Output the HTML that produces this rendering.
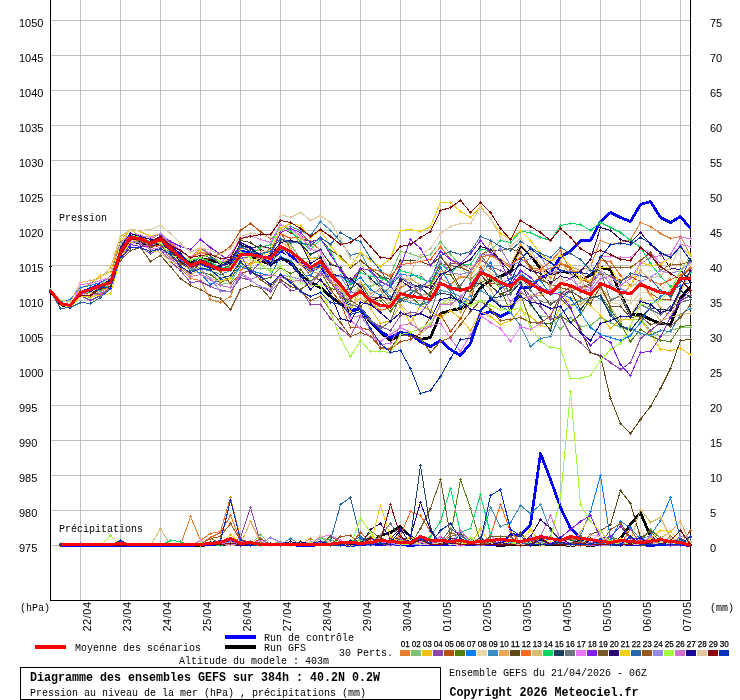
<!DOCTYPE html>
<html><head><meta charset="utf-8"><title>GEFS</title>
<style>
html,body{margin:0;padding:0;background:#fff;}
body{width:740px;height:700px;overflow:hidden;position:relative;font-family:"Liberation Sans",sans-serif;}
svg{position:absolute;left:0;top:0;will-change:transform;}
.a{font-family:"Liberation Sans",sans-serif;font-size:11px;fill:#000;}
.m{font-family:"Liberation Mono",monospace;font-size:11.6px;fill:#000;}
.b{font-family:"Liberation Mono",monospace;font-size:12px;font-weight:bold;fill:#000;}
.t{font-family:"Liberation Sans",sans-serif;font-size:8.4px;fill:#000;stroke:#000;stroke-width:0.25px;}
</style></head><body>
<svg width="740" height="700" viewBox="0 0 740 700">
<rect x="0" y="0" width="740" height="700" fill="#fff"/>

<defs><marker id="k1" markerWidth="4" markerHeight="4" refX="2" refY="2" markerUnits="userSpaceOnUse"><path d="M1.5 0.5h1v1h1v1h-1v1h-1v-1h-1v-1h1z" fill="#E67E30" shape-rendering="crispEdges"/></marker><marker id="k2" markerWidth="4" markerHeight="4" refX="2" refY="2" markerUnits="userSpaceOnUse"><path d="M1.5 0.5h1v1h1v1h-1v1h-1v-1h-1v-1h1z" fill="#7DC46E" shape-rendering="crispEdges"/></marker><marker id="k3" markerWidth="4" markerHeight="4" refX="2" refY="2" markerUnits="userSpaceOnUse"><path d="M1.5 0.5h1v1h1v1h-1v1h-1v-1h-1v-1h1z" fill="#F0C010" shape-rendering="crispEdges"/></marker><marker id="k4" markerWidth="4" markerHeight="4" refX="2" refY="2" markerUnits="userSpaceOnUse"><path d="M1.5 0.5h1v1h1v1h-1v1h-1v-1h-1v-1h1z" fill="#8E44AD" shape-rendering="crispEdges"/></marker><marker id="k5" markerWidth="4" markerHeight="4" refX="2" refY="2" markerUnits="userSpaceOnUse"><path d="M1.5 0.5h1v1h1v1h-1v1h-1v-1h-1v-1h1z" fill="#B8500E" shape-rendering="crispEdges"/></marker><marker id="k6" markerWidth="4" markerHeight="4" refX="2" refY="2" markerUnits="userSpaceOnUse"><path d="M1.5 0.5h1v1h1v1h-1v1h-1v-1h-1v-1h1z" fill="#55800B" shape-rendering="crispEdges"/></marker><marker id="k7" markerWidth="4" markerHeight="4" refX="2" refY="2" markerUnits="userSpaceOnUse"><path d="M1.5 0.5h1v1h1v1h-1v1h-1v-1h-1v-1h1z" fill="#0A7FF5" shape-rendering="crispEdges"/></marker><marker id="k8" markerWidth="4" markerHeight="4" refX="2" refY="2" markerUnits="userSpaceOnUse"><path d="M1.5 0.5h1v1h1v1h-1v1h-1v-1h-1v-1h1z" fill="#E8D8A8" shape-rendering="crispEdges"/></marker><marker id="k9" markerWidth="4" markerHeight="4" refX="2" refY="2" markerUnits="userSpaceOnUse"><path d="M1.5 0.5h1v1h1v1h-1v1h-1v-1h-1v-1h1z" fill="#3A8BC0" shape-rendering="crispEdges"/></marker><marker id="k10" markerWidth="4" markerHeight="4" refX="2" refY="2" markerUnits="userSpaceOnUse"><path d="M1.5 0.5h1v1h1v1h-1v1h-1v-1h-1v-1h1z" fill="#E8A858" shape-rendering="crispEdges"/></marker><marker id="k11" markerWidth="4" markerHeight="4" refX="2" refY="2" markerUnits="userSpaceOnUse"><path d="M1.5 0.5h1v1h1v1h-1v1h-1v-1h-1v-1h1z" fill="#5F4818" shape-rendering="crispEdges"/></marker><marker id="k12" markerWidth="4" markerHeight="4" refX="2" refY="2" markerUnits="userSpaceOnUse"><path d="M1.5 0.5h1v1h1v1h-1v1h-1v-1h-1v-1h1z" fill="#F56A20" shape-rendering="crispEdges"/></marker><marker id="k13" markerWidth="4" markerHeight="4" refX="2" refY="2" markerUnits="userSpaceOnUse"><path d="M1.5 0.5h1v1h1v1h-1v1h-1v-1h-1v-1h1z" fill="#D4BC6C" shape-rendering="crispEdges"/></marker><marker id="k14" markerWidth="4" markerHeight="4" refX="2" refY="2" markerUnits="userSpaceOnUse"><path d="M1.5 0.5h1v1h1v1h-1v1h-1v-1h-1v-1h1z" fill="#0AD860" shape-rendering="crispEdges"/></marker><marker id="k15" markerWidth="4" markerHeight="4" refX="2" refY="2" markerUnits="userSpaceOnUse"><path d="M1.5 0.5h1v1h1v1h-1v1h-1v-1h-1v-1h1z" fill="#1F4060" shape-rendering="crispEdges"/></marker><marker id="k16" markerWidth="4" markerHeight="4" refX="2" refY="2" markerUnits="userSpaceOnUse"><path d="M1.5 0.5h1v1h1v1h-1v1h-1v-1h-1v-1h1z" fill="#6A7680" shape-rendering="crispEdges"/></marker><marker id="k17" markerWidth="4" markerHeight="4" refX="2" refY="2" markerUnits="userSpaceOnUse"><path d="M1.5 0.5h1v1h1v1h-1v1h-1v-1h-1v-1h1z" fill="#E878F8" shape-rendering="crispEdges"/></marker><marker id="k18" markerWidth="4" markerHeight="4" refX="2" refY="2" markerUnits="userSpaceOnUse"><path d="M1.5 0.5h1v1h1v1h-1v1h-1v-1h-1v-1h1z" fill="#8020F0" shape-rendering="crispEdges"/></marker><marker id="k19" markerWidth="4" markerHeight="4" refX="2" refY="2" markerUnits="userSpaceOnUse"><path d="M1.5 0.5h1v1h1v1h-1v1h-1v-1h-1v-1h1z" fill="#7A5A28" shape-rendering="crispEdges"/></marker><marker id="k20" markerWidth="4" markerHeight="4" refX="2" refY="2" markerUnits="userSpaceOnUse"><path d="M1.5 0.5h1v1h1v1h-1v1h-1v-1h-1v-1h1z" fill="#300870" shape-rendering="crispEdges"/></marker><marker id="k21" markerWidth="4" markerHeight="4" refX="2" refY="2" markerUnits="userSpaceOnUse"><path d="M1.5 0.5h1v1h1v1h-1v1h-1v-1h-1v-1h1z" fill="#F0D008" shape-rendering="crispEdges"/></marker><marker id="k22" markerWidth="4" markerHeight="4" refX="2" refY="2" markerUnits="userSpaceOnUse"><path d="M1.5 0.5h1v1h1v1h-1v1h-1v-1h-1v-1h1z" fill="#2868A8" shape-rendering="crispEdges"/></marker><marker id="k23" markerWidth="4" markerHeight="4" refX="2" refY="2" markerUnits="userSpaceOnUse"><path d="M1.5 0.5h1v1h1v1h-1v1h-1v-1h-1v-1h1z" fill="#985820" shape-rendering="crispEdges"/></marker><marker id="k24" markerWidth="4" markerHeight="4" refX="2" refY="2" markerUnits="userSpaceOnUse"><path d="M1.5 0.5h1v1h1v1h-1v1h-1v-1h-1v-1h1z" fill="#9888E8" shape-rendering="crispEdges"/></marker><marker id="k25" markerWidth="4" markerHeight="4" refX="2" refY="2" markerUnits="userSpaceOnUse"><path d="M1.5 0.5h1v1h1v1h-1v1h-1v-1h-1v-1h1z" fill="#A0F840" shape-rendering="crispEdges"/></marker><marker id="k26" markerWidth="4" markerHeight="4" refX="2" refY="2" markerUnits="userSpaceOnUse"><path d="M1.5 0.5h1v1h1v1h-1v1h-1v-1h-1v-1h1z" fill="#D070D0" shape-rendering="crispEdges"/></marker><marker id="k27" markerWidth="4" markerHeight="4" refX="2" refY="2" markerUnits="userSpaceOnUse"><path d="M1.5 0.5h1v1h1v1h-1v1h-1v-1h-1v-1h1z" fill="#180898" shape-rendering="crispEdges"/></marker><marker id="k28" markerWidth="4" markerHeight="4" refX="2" refY="2" markerUnits="userSpaceOnUse"><path d="M1.5 0.5h1v1h1v1h-1v1h-1v-1h-1v-1h1z" fill="#E0C8A0" shape-rendering="crispEdges"/></marker><marker id="k29" markerWidth="4" markerHeight="4" refX="2" refY="2" markerUnits="userSpaceOnUse"><path d="M1.5 0.5h1v1h1v1h-1v1h-1v-1h-1v-1h1z" fill="#880808" shape-rendering="crispEdges"/></marker><marker id="k30" markerWidth="4" markerHeight="4" refX="2" refY="2" markerUnits="userSpaceOnUse"><path d="M1.5 0.5h1v1h1v1h-1v1h-1v-1h-1v-1h1z" fill="#0830B8" shape-rendering="crispEdges"/></marker></defs>
<g shape-rendering="crispEdges" stroke="#c0c0c0" stroke-width="1"><line x1="50" y1="20.5" x2="690" y2="20.5"/><line x1="50" y1="55.5" x2="690" y2="55.5"/><line x1="50" y1="90.5" x2="690" y2="90.5"/><line x1="50" y1="125.5" x2="690" y2="125.5"/><line x1="50" y1="160.5" x2="690" y2="160.5"/><line x1="50" y1="195.5" x2="690" y2="195.5"/><line x1="50" y1="230.5" x2="690" y2="230.5"/><line x1="50" y1="265.5" x2="690" y2="265.5"/><line x1="50" y1="300.5" x2="690" y2="300.5"/><line x1="50" y1="335.5" x2="690" y2="335.5"/><line x1="50" y1="370.5" x2="690" y2="370.5"/><line x1="50" y1="405.5" x2="690" y2="405.5"/><line x1="50" y1="440.5" x2="690" y2="440.5"/><line x1="50" y1="475.5" x2="690" y2="475.5"/><line x1="50" y1="510.5" x2="690" y2="510.5"/><line x1="50" y1="545.5" x2="690" y2="545.5"/><line x1="80.5" y1="0" x2="80.5" y2="600"/><line x1="120.5" y1="0" x2="120.5" y2="600"/><line x1="160.5" y1="0" x2="160.5" y2="600"/><line x1="200.5" y1="0" x2="200.5" y2="600"/><line x1="240.5" y1="0" x2="240.5" y2="600"/><line x1="280.5" y1="0" x2="280.5" y2="600"/><line x1="320.5" y1="0" x2="320.5" y2="600"/><line x1="360.5" y1="0" x2="360.5" y2="600"/><line x1="400.5" y1="0" x2="400.5" y2="600"/><line x1="440.5" y1="0" x2="440.5" y2="600"/><line x1="480.5" y1="0" x2="480.5" y2="600"/><line x1="520.5" y1="0" x2="520.5" y2="600"/><line x1="560.5" y1="0" x2="560.5" y2="600"/><line x1="600.5" y1="0" x2="600.5" y2="600"/><line x1="640.5" y1="0" x2="640.5" y2="600"/><line x1="680.5" y1="0" x2="680.5" y2="600"/></g>
<text class="a" x="19" y="27">1050</text><text class="a" x="710" y="27">75</text><text class="a" x="19" y="62">1045</text><text class="a" x="710" y="62">70</text><text class="a" x="19" y="97">1040</text><text class="a" x="710" y="97">65</text><text class="a" x="19" y="132">1035</text><text class="a" x="710" y="132">60</text><text class="a" x="19" y="167">1030</text><text class="a" x="710" y="167">55</text><text class="a" x="19" y="202">1025</text><text class="a" x="710" y="202">50</text><text class="a" x="19" y="237">1020</text><text class="a" x="710" y="237">45</text><text class="a" x="19" y="272">1015</text><text class="a" x="710" y="272">40</text><text class="a" x="19" y="307">1010</text><text class="a" x="710" y="307">35</text><text class="a" x="19" y="342">1005</text><text class="a" x="710" y="342">30</text><text class="a" x="19" y="377">1000</text><text class="a" x="710" y="377">25</text><text class="a" x="19" y="412">995</text><text class="a" x="710" y="412">20</text><text class="a" x="19" y="447">990</text><text class="a" x="710" y="447">15</text><text class="a" x="19" y="482">985</text><text class="a" x="710" y="482">10</text><text class="a" x="19" y="517">980</text><text class="a" x="710" y="517">5</text><text class="a" x="19" y="552">975</text><text class="a" x="710" y="552">0</text><text class="a" style="letter-spacing:0.5px" transform="translate(91,631.5) rotate(-90)">22/04</text><text class="a" style="letter-spacing:0.5px" transform="translate(131,631.5) rotate(-90)">23/04</text><text class="a" style="letter-spacing:0.5px" transform="translate(171,631.5) rotate(-90)">24/04</text><text class="a" style="letter-spacing:0.5px" transform="translate(211,631.5) rotate(-90)">25/04</text><text class="a" style="letter-spacing:0.5px" transform="translate(251,631.5) rotate(-90)">26/04</text><text class="a" style="letter-spacing:0.5px" transform="translate(291,631.5) rotate(-90)">27/04</text><text class="a" style="letter-spacing:0.5px" transform="translate(331,631.5) rotate(-90)">28/04</text><text class="a" style="letter-spacing:0.5px" transform="translate(371,631.5) rotate(-90)">29/04</text><text class="a" style="letter-spacing:0.5px" transform="translate(411,631.5) rotate(-90)">30/04</text><text class="a" style="letter-spacing:0.5px" transform="translate(451,631.5) rotate(-90)">01/05</text><text class="a" style="letter-spacing:0.5px" transform="translate(491,631.5) rotate(-90)">02/05</text><text class="a" style="letter-spacing:0.5px" transform="translate(531,631.5) rotate(-90)">03/05</text><text class="a" style="letter-spacing:0.5px" transform="translate(571,631.5) rotate(-90)">04/05</text><text class="a" style="letter-spacing:0.5px" transform="translate(611,631.5) rotate(-90)">05/05</text><text class="a" style="letter-spacing:0.5px" transform="translate(651,631.5) rotate(-90)">06/05</text><text class="a" style="letter-spacing:0.5px" transform="translate(691,631.5) rotate(-90)">07/05</text>
<g shape-rendering="crispEdges" fill="#000"><rect x="50" y="0" width="1" height="601"/><rect x="690" y="0" width="1" height="601"/><rect x="50" y="600" width="641" height="1"/><rect x="49" y="266" width="3" height="1"/></g>
<!--DATA-->
<g fill="none" stroke-linejoin="round" shape-rendering="crispEdges">
<polyline stroke="#000000" stroke-width="2.8" points="60.5,545.5 70.5,545.5 80.5,545.5 90.5,545.5 100.5,545.5 110.5,545.5 120.5,545.5 130.5,545.5 140.5,545.5 150.5,545.5 160.5,545.5 170.5,545.5 180.5,545.5 190.5,545.5 200.5,545.5 210.5,544.5 220.5,544.5 230.5,544.5 240.5,544.5 250.5,544.5 260.5,544.5 270.5,544.5 280.5,544.5 290.5,544.5 300.5,544.5 310.5,545.5 320.5,544.5 330.5,544.5 340.5,544.5 350.5,544.5 360.5,544.5 370.5,544.5 380.5,535.5 390.5,532.5 400.5,526.5 410.5,536.5 420.5,544.5 430.5,544.5 440.5,544.5 450.5,544.5 460.5,544.5 470.5,544.5 480.5,544.5 490.5,544.5 500.5,545.5 510.5,544.5 520.5,544.5 530.5,544.5 540.5,544.5 550.5,544.5 560.5,544.5 570.5,545.5 580.5,544.5 590.5,545.5 600.5,544.5 610.5,544.5 620.5,538.5 630.5,524.5 640.5,512.5 650.5,536.5 660.5,544.5 670.5,544.5 680.5,544.5 690.5,545.5"/>
<polyline stroke="#0000ff" stroke-width="2.8" points="60.5,545.5 70.5,545.5 80.5,545.5 90.5,545.5 100.5,545.5 110.5,545.5 120.5,545.5 130.5,545.5 140.5,545.5 150.5,545.5 160.5,545.5 170.5,545.5 180.5,545.5 190.5,545.5 200.5,544.5 210.5,544.5 220.5,544.5 230.5,541.5 240.5,544.5 250.5,544.5 260.5,544.5 270.5,544.5 280.5,544.5 290.5,544.5 300.5,545.5 310.5,545.5 320.5,544.5 330.5,544.5 340.5,544.5 350.5,545.5 360.5,544.5 370.5,544.5 380.5,544.5 390.5,544.5 400.5,544.5 410.5,545.5 420.5,544.5 430.5,544.5 440.5,544.5 450.5,544.5 460.5,544.5 470.5,544.5 480.5,544.5 490.5,544.5 500.5,544.5 510.5,534.5 520.5,535.5 530.5,524.5 540.5,453.5 550.5,479.5 560.5,507.5 570.5,528.5 580.5,537.5 590.5,544.5 600.5,544.5 610.5,544.5 620.5,544.5 630.5,544.5 640.5,544.5 650.5,545.5 660.5,544.5 670.5,544.5 680.5,544.5 690.5,545.5"/>
<polyline stroke="#E67E30" stroke-width="1" marker-start="url(#k1)" marker-mid="url(#k1)" marker-end="url(#k1)" points="60.5,545.5 70.5,545.5 80.5,544.5 90.5,545.5 100.5,545.5 110.5,545.5 120.5,545.5 130.5,545.5 140.5,545.5 150.5,545.5 160.5,545.5 170.5,545.5 180.5,545.5 190.5,516.5 200.5,540.5 210.5,533.5 220.5,531.5 230.5,497.5 240.5,538.5 250.5,545.5 260.5,544.5 270.5,544.5 280.5,544.5 290.5,544.5 300.5,544.5 310.5,538.5 320.5,544.5 330.5,544.5 340.5,544.5 350.5,544.5 360.5,544.5 370.5,545.5 380.5,544.5 390.5,544.5 400.5,544.5 410.5,542.5 420.5,544.5 430.5,544.5 440.5,544.5 450.5,544.5 460.5,544.5 470.5,544.5 480.5,544.5 490.5,544.5 500.5,544.5 510.5,544.5 520.5,544.5 530.5,544.5 540.5,541.5 550.5,544.5 560.5,544.5 570.5,537.5 580.5,544.5 590.5,544.5 600.5,544.5 610.5,544.5 620.5,543.5 630.5,544.5 640.5,544.5 650.5,541.5 660.5,544.5 670.5,544.5 680.5,544.5 690.5,541.5"/>
<polyline stroke="#7DC46E" stroke-width="1" marker-start="url(#k2)" marker-mid="url(#k2)" marker-end="url(#k2)" points="60.5,543.5 70.5,545.5 80.5,545.5 90.5,545.5 100.5,545.5 110.5,544.5 120.5,545.5 130.5,545.5 140.5,545.5 150.5,545.5 160.5,545.5 170.5,545.5 180.5,545.5 190.5,545.5 200.5,544.5 210.5,542.5 220.5,544.5 230.5,545.5 240.5,544.5 250.5,544.5 260.5,534.5 270.5,544.5 280.5,541.5 290.5,544.5 300.5,544.5 310.5,545.5 320.5,538.5 330.5,539.5 340.5,543.5 350.5,544.5 360.5,539.5 370.5,544.5 380.5,537.5 390.5,542.5 400.5,540.5 410.5,541.5 420.5,540.5 430.5,542.5 440.5,542.5 450.5,544.5 460.5,544.5 470.5,541.5 480.5,538.5 490.5,544.5 500.5,543.5 510.5,544.5 520.5,544.5 530.5,543.5 540.5,544.5 550.5,544.5 560.5,541.5 570.5,544.5 580.5,544.5 590.5,544.5 600.5,543.5 610.5,540.5 620.5,544.5 630.5,544.5 640.5,536.5 650.5,544.5 660.5,544.5 670.5,544.5 680.5,542.5 690.5,541.5"/>
<polyline stroke="#F0C010" stroke-width="1" marker-start="url(#k3)" marker-mid="url(#k3)" marker-end="url(#k3)" points="60.5,545.5 70.5,545.5 80.5,545.5 90.5,545.5 100.5,545.5 110.5,545.5 120.5,545.5 130.5,545.5 140.5,545.5 150.5,544.5 160.5,545.5 170.5,545.5 180.5,545.5 190.5,545.5 200.5,544.5 210.5,544.5 220.5,544.5 230.5,545.5 240.5,544.5 250.5,545.5 260.5,544.5 270.5,544.5 280.5,543.5 290.5,544.5 300.5,544.5 310.5,544.5 320.5,544.5 330.5,544.5 340.5,543.5 350.5,542.5 360.5,544.5 370.5,542.5 380.5,538.5 390.5,544.5 400.5,541.5 410.5,544.5 420.5,537.5 430.5,539.5 440.5,544.5 450.5,542.5 460.5,542.5 470.5,544.5 480.5,528.5 490.5,544.5 500.5,544.5 510.5,540.5 520.5,544.5 530.5,542.5 540.5,545.5 550.5,544.5 560.5,544.5 570.5,544.5 580.5,544.5 590.5,544.5 600.5,542.5 610.5,539.5 620.5,542.5 630.5,544.5 640.5,544.5 650.5,543.5 660.5,543.5 670.5,544.5 680.5,541.5 690.5,544.5"/>
<polyline stroke="#8E44AD" stroke-width="1" marker-start="url(#k4)" marker-mid="url(#k4)" marker-end="url(#k4)" points="60.5,544.5 70.5,545.5 80.5,545.5 90.5,545.5 100.5,545.5 110.5,545.5 120.5,545.5 130.5,544.5 140.5,545.5 150.5,545.5 160.5,545.5 170.5,545.5 180.5,545.5 190.5,545.5 200.5,544.5 210.5,541.5 220.5,544.5 230.5,544.5 240.5,537.5 250.5,507.5 260.5,542.5 270.5,543.5 280.5,545.5 290.5,544.5 300.5,544.5 310.5,544.5 320.5,544.5 330.5,544.5 340.5,544.5 350.5,544.5 360.5,544.5 370.5,544.5 380.5,544.5 390.5,543.5 400.5,538.5 410.5,541.5 420.5,542.5 430.5,540.5 440.5,544.5 450.5,544.5 460.5,542.5 470.5,544.5 480.5,544.5 490.5,543.5 500.5,544.5 510.5,544.5 520.5,544.5 530.5,541.5 540.5,538.5 550.5,544.5 560.5,544.5 570.5,544.5 580.5,545.5 590.5,543.5 600.5,544.5 610.5,544.5 620.5,541.5 630.5,542.5 640.5,544.5 650.5,544.5 660.5,544.5 670.5,544.5 680.5,545.5 690.5,542.5"/>
<polyline stroke="#B8500E" stroke-width="1" marker-start="url(#k5)" marker-mid="url(#k5)" marker-end="url(#k5)" points="60.5,545.5 70.5,545.5 80.5,545.5 90.5,545.5 100.5,545.5 110.5,545.5 120.5,545.5 130.5,545.5 140.5,545.5 150.5,545.5 160.5,545.5 170.5,545.5 180.5,545.5 190.5,545.5 200.5,544.5 210.5,538.5 220.5,536.5 230.5,523.5 240.5,540.5 250.5,541.5 260.5,543.5 270.5,544.5 280.5,544.5 290.5,544.5 300.5,544.5 310.5,544.5 320.5,544.5 330.5,543.5 340.5,543.5 350.5,544.5 360.5,532.5 370.5,542.5 380.5,539.5 390.5,542.5 400.5,544.5 410.5,544.5 420.5,544.5 430.5,544.5 440.5,543.5 450.5,533.5 460.5,532.5 470.5,544.5 480.5,542.5 490.5,544.5 500.5,544.5 510.5,544.5 520.5,544.5 530.5,540.5 540.5,544.5 550.5,544.5 560.5,543.5 570.5,544.5 580.5,545.5 590.5,545.5 600.5,544.5 610.5,544.5 620.5,544.5 630.5,528.5 640.5,544.5 650.5,544.5 660.5,537.5 670.5,544.5 680.5,543.5 690.5,530.5"/>
<polyline stroke="#55800B" stroke-width="1" marker-start="url(#k6)" marker-mid="url(#k6)" marker-end="url(#k6)" points="60.5,545.5 70.5,545.5 80.5,545.5 90.5,545.5 100.5,545.5 110.5,545.5 120.5,545.5 130.5,545.5 140.5,545.5 150.5,545.5 160.5,545.5 170.5,545.5 180.5,545.5 190.5,545.5 200.5,544.5 210.5,537.5 220.5,544.5 230.5,544.5 240.5,544.5 250.5,544.5 260.5,544.5 270.5,544.5 280.5,544.5 290.5,544.5 300.5,541.5 310.5,545.5 320.5,544.5 330.5,544.5 340.5,544.5 350.5,544.5 360.5,542.5 370.5,544.5 380.5,544.5 390.5,542.5 400.5,544.5 410.5,542.5 420.5,544.5 430.5,544.5 440.5,543.5 450.5,536.5 460.5,479.5 470.5,508.5 480.5,542.5 490.5,544.5 500.5,544.5 510.5,543.5 520.5,544.5 530.5,544.5 540.5,544.5 550.5,544.5 560.5,542.5 570.5,544.5 580.5,544.5 590.5,544.5 600.5,543.5 610.5,536.5 620.5,540.5 630.5,544.5 640.5,540.5 650.5,529.5 660.5,538.5 670.5,544.5 680.5,544.5 690.5,544.5"/>
<polyline stroke="#0A7FF5" stroke-width="1" marker-start="url(#k7)" marker-mid="url(#k7)" marker-end="url(#k7)" points="60.5,545.5 70.5,545.5 80.5,545.5 90.5,545.5 100.5,545.5 110.5,545.5 120.5,545.5 130.5,545.5 140.5,545.5 150.5,545.5 160.5,545.5 170.5,545.5 180.5,544.5 190.5,545.5 200.5,544.5 210.5,544.5 220.5,544.5 230.5,543.5 240.5,544.5 250.5,544.5 260.5,544.5 270.5,544.5 280.5,544.5 290.5,544.5 300.5,544.5 310.5,544.5 320.5,541.5 330.5,544.5 340.5,542.5 350.5,542.5 360.5,536.5 370.5,543.5 380.5,542.5 390.5,544.5 400.5,544.5 410.5,535.5 420.5,544.5 430.5,544.5 440.5,539.5 450.5,544.5 460.5,542.5 470.5,544.5 480.5,544.5 490.5,542.5 500.5,544.5 510.5,544.5 520.5,542.5 530.5,544.5 540.5,544.5 550.5,544.5 560.5,544.5 570.5,544.5 580.5,535.5 590.5,511.5 600.5,475.5 610.5,539.5 620.5,521.5 630.5,527.5 640.5,539.5 650.5,535.5 660.5,520.5 670.5,497.5 680.5,539.5 690.5,544.5"/>
<polyline stroke="#E8D8A8" stroke-width="1" marker-start="url(#k8)" marker-mid="url(#k8)" marker-end="url(#k8)" points="60.5,545.5 70.5,545.5 80.5,545.5 90.5,545.5 100.5,545.5 110.5,545.5 120.5,544.5 130.5,545.5 140.5,545.5 150.5,545.5 160.5,545.5 170.5,545.5 180.5,545.5 190.5,545.5 200.5,544.5 210.5,544.5 220.5,544.5 230.5,542.5 240.5,543.5 250.5,544.5 260.5,543.5 270.5,544.5 280.5,544.5 290.5,544.5 300.5,544.5 310.5,544.5 320.5,544.5 330.5,544.5 340.5,544.5 350.5,544.5 360.5,542.5 370.5,544.5 380.5,544.5 390.5,543.5 400.5,544.5 410.5,544.5 420.5,544.5 430.5,544.5 440.5,544.5 450.5,544.5 460.5,544.5 470.5,543.5 480.5,539.5 490.5,543.5 500.5,544.5 510.5,544.5 520.5,542.5 530.5,544.5 540.5,542.5 550.5,544.5 560.5,544.5 570.5,544.5 580.5,540.5 590.5,544.5 600.5,542.5 610.5,544.5 620.5,545.5 630.5,544.5 640.5,530.5 650.5,542.5 660.5,544.5 670.5,544.5 680.5,544.5 690.5,544.5"/>
<polyline stroke="#3A8BC0" stroke-width="1" marker-start="url(#k9)" marker-mid="url(#k9)" marker-end="url(#k9)" points="60.5,545.5 70.5,545.5 80.5,545.5 90.5,545.5 100.5,544.5 110.5,545.5 120.5,545.5 130.5,545.5 140.5,545.5 150.5,544.5 160.5,545.5 170.5,545.5 180.5,545.5 190.5,544.5 200.5,545.5 210.5,544.5 220.5,544.5 230.5,543.5 240.5,544.5 250.5,542.5 260.5,542.5 270.5,544.5 280.5,544.5 290.5,538.5 300.5,544.5 310.5,544.5 320.5,541.5 330.5,542.5 340.5,544.5 350.5,545.5 360.5,544.5 370.5,538.5 380.5,544.5 390.5,543.5 400.5,542.5 410.5,544.5 420.5,544.5 430.5,544.5 440.5,544.5 450.5,544.5 460.5,544.5 470.5,544.5 480.5,540.5 490.5,507.5 500.5,526.5 510.5,522.5 520.5,505.5 530.5,513.5 540.5,504.5 550.5,530.5 560.5,539.5 570.5,544.5 580.5,540.5 590.5,544.5 600.5,538.5 610.5,542.5 620.5,544.5 630.5,544.5 640.5,544.5 650.5,544.5 660.5,543.5 670.5,544.5 680.5,544.5 690.5,544.5"/>
<polyline stroke="#E8A858" stroke-width="1" marker-start="url(#k10)" marker-mid="url(#k10)" marker-end="url(#k10)" points="60.5,544.5 70.5,545.5 80.5,545.5 90.5,545.5 100.5,545.5 110.5,545.5 120.5,545.5 130.5,544.5 140.5,545.5 150.5,545.5 160.5,545.5 170.5,545.5 180.5,545.5 190.5,545.5 200.5,545.5 210.5,541.5 220.5,544.5 230.5,544.5 240.5,544.5 250.5,521.5 260.5,541.5 270.5,544.5 280.5,544.5 290.5,543.5 300.5,544.5 310.5,544.5 320.5,536.5 330.5,544.5 340.5,544.5 350.5,544.5 360.5,544.5 370.5,536.5 380.5,544.5 390.5,541.5 400.5,544.5 410.5,544.5 420.5,544.5 430.5,544.5 440.5,542.5 450.5,544.5 460.5,538.5 470.5,544.5 480.5,538.5 490.5,544.5 500.5,544.5 510.5,544.5 520.5,545.5 530.5,544.5 540.5,544.5 550.5,544.5 560.5,544.5 570.5,544.5 580.5,532.5 590.5,515.5 600.5,536.5 610.5,544.5 620.5,544.5 630.5,542.5 640.5,544.5 650.5,543.5 660.5,538.5 670.5,531.5 680.5,521.5 690.5,544.5"/>
<polyline stroke="#5F4818" stroke-width="1" marker-start="url(#k11)" marker-mid="url(#k11)" marker-end="url(#k11)" points="60.5,545.5 70.5,545.5 80.5,545.5 90.5,545.5 100.5,545.5 110.5,545.5 120.5,545.5 130.5,545.5 140.5,545.5 150.5,545.5 160.5,545.5 170.5,545.5 180.5,545.5 190.5,545.5 200.5,543.5 210.5,544.5 220.5,544.5 230.5,544.5 240.5,544.5 250.5,544.5 260.5,544.5 270.5,544.5 280.5,544.5 290.5,544.5 300.5,544.5 310.5,544.5 320.5,544.5 330.5,544.5 340.5,544.5 350.5,542.5 360.5,544.5 370.5,544.5 380.5,539.5 390.5,544.5 400.5,538.5 410.5,544.5 420.5,544.5 430.5,542.5 440.5,544.5 450.5,544.5 460.5,544.5 470.5,542.5 480.5,544.5 490.5,544.5 500.5,544.5 510.5,544.5 520.5,532.5 530.5,544.5 540.5,544.5 550.5,544.5 560.5,538.5 570.5,539.5 580.5,544.5 590.5,534.5 600.5,530.5 610.5,524.5 620.5,490.5 630.5,503.5 640.5,537.5 650.5,531.5 660.5,541.5 670.5,544.5 680.5,543.5 690.5,545.5"/>
<polyline stroke="#F56A20" stroke-width="1" marker-start="url(#k12)" marker-mid="url(#k12)" marker-end="url(#k12)" points="60.5,545.5 70.5,545.5 80.5,545.5 90.5,544.5 100.5,545.5 110.5,545.5 120.5,545.5 130.5,544.5 140.5,545.5 150.5,545.5 160.5,545.5 170.5,545.5 180.5,545.5 190.5,545.5 200.5,543.5 210.5,537.5 220.5,532.5 230.5,515.5 240.5,540.5 250.5,544.5 260.5,544.5 270.5,544.5 280.5,544.5 290.5,544.5 300.5,544.5 310.5,544.5 320.5,544.5 330.5,544.5 340.5,544.5 350.5,545.5 360.5,543.5 370.5,541.5 380.5,544.5 390.5,541.5 400.5,535.5 410.5,511.5 420.5,515.5 430.5,531.5 440.5,544.5 450.5,544.5 460.5,544.5 470.5,544.5 480.5,544.5 490.5,535.5 500.5,504.5 510.5,531.5 520.5,542.5 530.5,542.5 540.5,544.5 550.5,544.5 560.5,544.5 570.5,544.5 580.5,544.5 590.5,545.5 600.5,544.5 610.5,544.5 620.5,544.5 630.5,544.5 640.5,540.5 650.5,541.5 660.5,542.5 670.5,543.5 680.5,544.5 690.5,542.5"/>
<polyline stroke="#D4BC6C" stroke-width="1" marker-start="url(#k13)" marker-mid="url(#k13)" marker-end="url(#k13)" points="60.5,545.5 70.5,544.5 80.5,545.5 90.5,545.5 100.5,545.5 110.5,545.5 120.5,544.5 130.5,545.5 140.5,545.5 150.5,545.5 160.5,528.5 170.5,545.5 180.5,545.5 190.5,545.5 200.5,544.5 210.5,544.5 220.5,544.5 230.5,543.5 240.5,544.5 250.5,543.5 260.5,544.5 270.5,543.5 280.5,544.5 290.5,544.5 300.5,544.5 310.5,544.5 320.5,544.5 330.5,544.5 340.5,544.5 350.5,544.5 360.5,544.5 370.5,544.5 380.5,544.5 390.5,544.5 400.5,536.5 410.5,544.5 420.5,544.5 430.5,544.5 440.5,544.5 450.5,544.5 460.5,542.5 470.5,543.5 480.5,544.5 490.5,542.5 500.5,544.5 510.5,544.5 520.5,544.5 530.5,544.5 540.5,536.5 550.5,544.5 560.5,544.5 570.5,544.5 580.5,539.5 590.5,544.5 600.5,544.5 610.5,541.5 620.5,544.5 630.5,540.5 640.5,509.5 650.5,522.5 660.5,517.5 670.5,537.5 680.5,541.5 690.5,544.5"/>
<polyline stroke="#0AD860" stroke-width="1" marker-start="url(#k14)" marker-mid="url(#k14)" marker-end="url(#k14)" points="60.5,545.5 70.5,545.5 80.5,545.5 90.5,545.5 100.5,545.5 110.5,544.5 120.5,545.5 130.5,545.5 140.5,545.5 150.5,545.5 160.5,545.5 170.5,540.5 180.5,541.5 190.5,545.5 200.5,544.5 210.5,544.5 220.5,545.5 230.5,543.5 240.5,544.5 250.5,544.5 260.5,544.5 270.5,544.5 280.5,544.5 290.5,544.5 300.5,544.5 310.5,544.5 320.5,536.5 330.5,544.5 340.5,544.5 350.5,544.5 360.5,544.5 370.5,544.5 380.5,544.5 390.5,544.5 400.5,542.5 410.5,544.5 420.5,542.5 430.5,536.5 440.5,521.5 450.5,488.5 460.5,532.5 470.5,528.5 480.5,494.5 490.5,534.5 500.5,544.5 510.5,542.5 520.5,544.5 530.5,544.5 540.5,540.5 550.5,544.5 560.5,544.5 570.5,543.5 580.5,544.5 590.5,544.5 600.5,544.5 610.5,544.5 620.5,544.5 630.5,544.5 640.5,544.5 650.5,544.5 660.5,544.5 670.5,544.5 680.5,544.5 690.5,544.5"/>
<polyline stroke="#1F4060" stroke-width="1" marker-start="url(#k15)" marker-mid="url(#k15)" marker-end="url(#k15)" points="60.5,545.5 70.5,545.5 80.5,544.5 90.5,545.5 100.5,545.5 110.5,544.5 120.5,545.5 130.5,545.5 140.5,545.5 150.5,545.5 160.5,545.5 170.5,545.5 180.5,545.5 190.5,545.5 200.5,544.5 210.5,544.5 220.5,544.5 230.5,544.5 240.5,544.5 250.5,544.5 260.5,545.5 270.5,544.5 280.5,544.5 290.5,543.5 300.5,544.5 310.5,544.5 320.5,541.5 330.5,544.5 340.5,544.5 350.5,544.5 360.5,542.5 370.5,537.5 380.5,543.5 390.5,539.5 400.5,538.5 410.5,538.5 420.5,465.5 430.5,528.5 440.5,544.5 450.5,544.5 460.5,543.5 470.5,544.5 480.5,537.5 490.5,544.5 500.5,544.5 510.5,544.5 520.5,544.5 530.5,537.5 540.5,544.5 550.5,544.5 560.5,541.5 570.5,544.5 580.5,544.5 590.5,538.5 600.5,544.5 610.5,545.5 620.5,544.5 630.5,544.5 640.5,542.5 650.5,544.5 660.5,543.5 670.5,544.5 680.5,538.5 690.5,544.5"/>
<polyline stroke="#6A7680" stroke-width="1" marker-start="url(#k16)" marker-mid="url(#k16)" marker-end="url(#k16)" points="60.5,544.5 70.5,545.5 80.5,545.5 90.5,545.5 100.5,545.5 110.5,545.5 120.5,545.5 130.5,545.5 140.5,545.5 150.5,545.5 160.5,545.5 170.5,545.5 180.5,544.5 190.5,545.5 200.5,544.5 210.5,544.5 220.5,544.5 230.5,544.5 240.5,542.5 250.5,544.5 260.5,545.5 270.5,544.5 280.5,544.5 290.5,544.5 300.5,544.5 310.5,544.5 320.5,541.5 330.5,544.5 340.5,542.5 350.5,543.5 360.5,544.5 370.5,544.5 380.5,535.5 390.5,523.5 400.5,538.5 410.5,544.5 420.5,544.5 430.5,544.5 440.5,542.5 450.5,528.5 460.5,535.5 470.5,542.5 480.5,541.5 490.5,544.5 500.5,544.5 510.5,544.5 520.5,544.5 530.5,544.5 540.5,544.5 550.5,544.5 560.5,542.5 570.5,544.5 580.5,542.5 590.5,544.5 600.5,544.5 610.5,536.5 620.5,544.5 630.5,544.5 640.5,544.5 650.5,544.5 660.5,544.5 670.5,544.5 680.5,544.5 690.5,544.5"/>
<polyline stroke="#E878F8" stroke-width="1" marker-start="url(#k17)" marker-mid="url(#k17)" marker-end="url(#k17)" points="60.5,545.5 70.5,545.5 80.5,545.5 90.5,545.5 100.5,545.5 110.5,545.5 120.5,545.5 130.5,545.5 140.5,545.5 150.5,545.5 160.5,544.5 170.5,545.5 180.5,545.5 190.5,545.5 200.5,540.5 210.5,544.5 220.5,543.5 230.5,544.5 240.5,545.5 250.5,544.5 260.5,539.5 270.5,544.5 280.5,545.5 290.5,544.5 300.5,543.5 310.5,544.5 320.5,536.5 330.5,535.5 340.5,540.5 350.5,544.5 360.5,544.5 370.5,544.5 380.5,544.5 390.5,545.5 400.5,544.5 410.5,544.5 420.5,544.5 430.5,544.5 440.5,544.5 450.5,544.5 460.5,545.5 470.5,544.5 480.5,544.5 490.5,535.5 500.5,543.5 510.5,544.5 520.5,544.5 530.5,544.5 540.5,544.5 550.5,544.5 560.5,544.5 570.5,544.5 580.5,544.5 590.5,544.5 600.5,530.5 610.5,544.5 620.5,542.5 630.5,544.5 640.5,544.5 650.5,543.5 660.5,538.5 670.5,544.5 680.5,543.5 690.5,544.5"/>
<polyline stroke="#8020F0" stroke-width="1" marker-start="url(#k18)" marker-mid="url(#k18)" marker-end="url(#k18)" points="60.5,545.5 70.5,545.5 80.5,543.5 90.5,545.5 100.5,545.5 110.5,545.5 120.5,545.5 130.5,545.5 140.5,545.5 150.5,545.5 160.5,545.5 170.5,545.5 180.5,545.5 190.5,545.5 200.5,544.5 210.5,544.5 220.5,544.5 230.5,544.5 240.5,543.5 250.5,544.5 260.5,544.5 270.5,544.5 280.5,545.5 290.5,544.5 300.5,543.5 310.5,544.5 320.5,544.5 330.5,544.5 340.5,544.5 350.5,544.5 360.5,544.5 370.5,543.5 380.5,544.5 390.5,543.5 400.5,543.5 410.5,536.5 420.5,544.5 430.5,544.5 440.5,544.5 450.5,544.5 460.5,544.5 470.5,544.5 480.5,541.5 490.5,539.5 500.5,544.5 510.5,544.5 520.5,544.5 530.5,544.5 540.5,543.5 550.5,544.5 560.5,537.5 570.5,529.5 580.5,521.5 590.5,515.5 600.5,538.5 610.5,536.5 620.5,526.5 630.5,538.5 640.5,538.5 650.5,544.5 660.5,544.5 670.5,545.5 680.5,544.5 690.5,544.5"/>
<polyline stroke="#7A5A28" stroke-width="1" marker-start="url(#k19)" marker-mid="url(#k19)" marker-end="url(#k19)" points="60.5,545.5 70.5,545.5 80.5,545.5 90.5,545.5 100.5,545.5 110.5,545.5 120.5,545.5 130.5,545.5 140.5,545.5 150.5,545.5 160.5,545.5 170.5,545.5 180.5,545.5 190.5,545.5 200.5,543.5 210.5,544.5 220.5,544.5 230.5,544.5 240.5,544.5 250.5,544.5 260.5,542.5 270.5,544.5 280.5,544.5 290.5,544.5 300.5,544.5 310.5,543.5 320.5,544.5 330.5,536.5 340.5,542.5 350.5,544.5 360.5,544.5 370.5,531.5 380.5,537.5 390.5,544.5 400.5,544.5 410.5,544.5 420.5,528.5 430.5,508.5 440.5,479.5 450.5,536.5 460.5,533.5 470.5,544.5 480.5,544.5 490.5,536.5 500.5,536.5 510.5,536.5 520.5,544.5 530.5,542.5 540.5,542.5 550.5,542.5 560.5,544.5 570.5,544.5 580.5,536.5 590.5,545.5 600.5,542.5 610.5,544.5 620.5,542.5 630.5,544.5 640.5,541.5 650.5,543.5 660.5,544.5 670.5,544.5 680.5,544.5 690.5,544.5"/>
<polyline stroke="#300870" stroke-width="1" marker-start="url(#k20)" marker-mid="url(#k20)" marker-end="url(#k20)" points="60.5,545.5 70.5,545.5 80.5,545.5 90.5,545.5 100.5,545.5 110.5,545.5 120.5,545.5 130.5,545.5 140.5,545.5 150.5,545.5 160.5,545.5 170.5,545.5 180.5,545.5 190.5,545.5 200.5,544.5 210.5,544.5 220.5,544.5 230.5,544.5 240.5,544.5 250.5,544.5 260.5,544.5 270.5,544.5 280.5,544.5 290.5,541.5 300.5,544.5 310.5,543.5 320.5,544.5 330.5,544.5 340.5,542.5 350.5,544.5 360.5,544.5 370.5,529.5 380.5,523.5 390.5,538.5 400.5,528.5 410.5,544.5 420.5,544.5 430.5,541.5 440.5,544.5 450.5,538.5 460.5,539.5 470.5,544.5 480.5,544.5 490.5,544.5 500.5,545.5 510.5,544.5 520.5,544.5 530.5,536.5 540.5,519.5 550.5,528.5 560.5,541.5 570.5,544.5 580.5,539.5 590.5,544.5 600.5,544.5 610.5,541.5 620.5,544.5 630.5,543.5 640.5,544.5 650.5,539.5 660.5,543.5 670.5,544.5 680.5,544.5 690.5,545.5"/>
<polyline stroke="#F0D008" stroke-width="1" marker-start="url(#k21)" marker-mid="url(#k21)" marker-end="url(#k21)" points="60.5,545.5 70.5,545.5 80.5,545.5 90.5,545.5 100.5,545.5 110.5,545.5 120.5,545.5 130.5,545.5 140.5,545.5 150.5,545.5 160.5,545.5 170.5,545.5 180.5,545.5 190.5,545.5 200.5,544.5 210.5,542.5 220.5,544.5 230.5,534.5 240.5,543.5 250.5,541.5 260.5,543.5 270.5,544.5 280.5,544.5 290.5,544.5 300.5,544.5 310.5,543.5 320.5,544.5 330.5,544.5 340.5,544.5 350.5,544.5 360.5,544.5 370.5,544.5 380.5,505.5 390.5,536.5 400.5,544.5 410.5,536.5 420.5,544.5 430.5,544.5 440.5,542.5 450.5,544.5 460.5,544.5 470.5,541.5 480.5,544.5 490.5,544.5 500.5,544.5 510.5,544.5 520.5,542.5 530.5,529.5 540.5,542.5 550.5,542.5 560.5,544.5 570.5,544.5 580.5,544.5 590.5,544.5 600.5,544.5 610.5,541.5 620.5,538.5 630.5,544.5 640.5,544.5 650.5,538.5 660.5,530.5 670.5,531.5 680.5,541.5 690.5,544.5"/>
<polyline stroke="#2868A8" stroke-width="1" marker-start="url(#k22)" marker-mid="url(#k22)" marker-end="url(#k22)" points="60.5,545.5 70.5,545.5 80.5,545.5 90.5,545.5 100.5,545.5 110.5,544.5 120.5,545.5 130.5,545.5 140.5,545.5 150.5,545.5 160.5,545.5 170.5,545.5 180.5,545.5 190.5,545.5 200.5,544.5 210.5,544.5 220.5,544.5 230.5,544.5 240.5,543.5 250.5,541.5 260.5,544.5 270.5,543.5 280.5,544.5 290.5,544.5 300.5,545.5 310.5,542.5 320.5,544.5 330.5,540.5 340.5,504.5 350.5,497.5 360.5,538.5 370.5,544.5 380.5,543.5 390.5,544.5 400.5,544.5 410.5,544.5 420.5,542.5 430.5,542.5 440.5,536.5 450.5,544.5 460.5,533.5 470.5,544.5 480.5,544.5 490.5,544.5 500.5,542.5 510.5,544.5 520.5,542.5 530.5,544.5 540.5,544.5 550.5,536.5 560.5,544.5 570.5,544.5 580.5,544.5 590.5,544.5 600.5,543.5 610.5,542.5 620.5,544.5 630.5,544.5 640.5,544.5 650.5,544.5 660.5,544.5 670.5,544.5 680.5,539.5 690.5,544.5"/>
<polyline stroke="#985820" stroke-width="1" marker-start="url(#k23)" marker-mid="url(#k23)" marker-end="url(#k23)" points="60.5,544.5 70.5,545.5 80.5,545.5 90.5,545.5 100.5,545.5 110.5,545.5 120.5,545.5 130.5,545.5 140.5,545.5 150.5,545.5 160.5,545.5 170.5,545.5 180.5,545.5 190.5,545.5 200.5,544.5 210.5,544.5 220.5,544.5 230.5,544.5 240.5,542.5 250.5,544.5 260.5,538.5 270.5,544.5 280.5,544.5 290.5,543.5 300.5,544.5 310.5,544.5 320.5,544.5 330.5,544.5 340.5,536.5 350.5,535.5 360.5,544.5 370.5,544.5 380.5,544.5 390.5,544.5 400.5,544.5 410.5,542.5 420.5,544.5 430.5,542.5 440.5,543.5 450.5,544.5 460.5,543.5 470.5,538.5 480.5,544.5 490.5,541.5 500.5,544.5 510.5,544.5 520.5,544.5 530.5,538.5 540.5,544.5 550.5,544.5 560.5,543.5 570.5,544.5 580.5,541.5 590.5,544.5 600.5,544.5 610.5,529.5 620.5,523.5 630.5,537.5 640.5,545.5 650.5,544.5 660.5,544.5 670.5,536.5 680.5,544.5 690.5,544.5"/>
<polyline stroke="#9888E8" stroke-width="1" marker-start="url(#k24)" marker-mid="url(#k24)" marker-end="url(#k24)" points="60.5,545.5 70.5,545.5 80.5,545.5 90.5,545.5 100.5,545.5 110.5,545.5 120.5,545.5 130.5,545.5 140.5,545.5 150.5,545.5 160.5,545.5 170.5,545.5 180.5,545.5 190.5,545.5 200.5,544.5 210.5,544.5 220.5,544.5 230.5,541.5 240.5,544.5 250.5,544.5 260.5,544.5 270.5,537.5 280.5,542.5 290.5,544.5 300.5,544.5 310.5,541.5 320.5,544.5 330.5,544.5 340.5,544.5 350.5,544.5 360.5,544.5 370.5,545.5 380.5,544.5 390.5,542.5 400.5,544.5 410.5,544.5 420.5,544.5 430.5,542.5 440.5,544.5 450.5,544.5 460.5,544.5 470.5,544.5 480.5,545.5 490.5,544.5 500.5,544.5 510.5,543.5 520.5,544.5 530.5,537.5 540.5,542.5 550.5,543.5 560.5,544.5 570.5,544.5 580.5,544.5 590.5,542.5 600.5,545.5 610.5,545.5 620.5,542.5 630.5,544.5 640.5,537.5 650.5,542.5 660.5,543.5 670.5,544.5 680.5,536.5 690.5,537.5"/>
<polyline stroke="#A0F840" stroke-width="1" marker-start="url(#k25)" marker-mid="url(#k25)" marker-end="url(#k25)" points="60.5,545.5 70.5,545.5 80.5,544.5 90.5,545.5 100.5,545.5 110.5,535.5 120.5,545.5 130.5,544.5 140.5,545.5 150.5,545.5 160.5,545.5 170.5,545.5 180.5,545.5 190.5,545.5 200.5,542.5 210.5,544.5 220.5,544.5 230.5,544.5 240.5,544.5 250.5,544.5 260.5,544.5 270.5,545.5 280.5,544.5 290.5,545.5 300.5,544.5 310.5,542.5 320.5,544.5 330.5,544.5 340.5,542.5 350.5,545.5 360.5,518.5 370.5,532.5 380.5,544.5 390.5,540.5 400.5,544.5 410.5,544.5 420.5,541.5 430.5,544.5 440.5,544.5 450.5,544.5 460.5,544.5 470.5,537.5 480.5,544.5 490.5,544.5 500.5,544.5 510.5,544.5 520.5,541.5 530.5,542.5 540.5,544.5 550.5,538.5 560.5,498.5 570.5,391.5 580.5,504.5 590.5,521.5 600.5,531.5 610.5,541.5 620.5,544.5 630.5,543.5 640.5,544.5 650.5,544.5 660.5,542.5 670.5,544.5 680.5,542.5 690.5,542.5"/>
<polyline stroke="#D070D0" stroke-width="1" marker-start="url(#k26)" marker-mid="url(#k26)" marker-end="url(#k26)" points="60.5,545.5 70.5,545.5 80.5,545.5 90.5,545.5 100.5,545.5 110.5,545.5 120.5,545.5 130.5,545.5 140.5,545.5 150.5,545.5 160.5,545.5 170.5,545.5 180.5,545.5 190.5,544.5 200.5,544.5 210.5,544.5 220.5,544.5 230.5,544.5 240.5,544.5 250.5,544.5 260.5,544.5 270.5,545.5 280.5,544.5 290.5,545.5 300.5,542.5 310.5,544.5 320.5,542.5 330.5,544.5 340.5,544.5 350.5,542.5 360.5,544.5 370.5,542.5 380.5,541.5 390.5,544.5 400.5,537.5 410.5,544.5 420.5,542.5 430.5,544.5 440.5,536.5 450.5,542.5 460.5,530.5 470.5,541.5 480.5,544.5 490.5,544.5 500.5,544.5 510.5,544.5 520.5,544.5 530.5,544.5 540.5,536.5 550.5,515.5 560.5,539.5 570.5,544.5 580.5,543.5 590.5,545.5 600.5,544.5 610.5,544.5 620.5,544.5 630.5,544.5 640.5,544.5 650.5,536.5 660.5,544.5 670.5,544.5 680.5,543.5 690.5,544.5"/>
<polyline stroke="#180898" stroke-width="1" marker-start="url(#k27)" marker-mid="url(#k27)" marker-end="url(#k27)" points="60.5,545.5 70.5,544.5 80.5,545.5 90.5,545.5 100.5,545.5 110.5,545.5 120.5,545.5 130.5,545.5 140.5,545.5 150.5,545.5 160.5,544.5 170.5,545.5 180.5,545.5 190.5,545.5 200.5,544.5 210.5,544.5 220.5,544.5 230.5,545.5 240.5,545.5 250.5,545.5 260.5,544.5 270.5,543.5 280.5,544.5 290.5,544.5 300.5,542.5 310.5,543.5 320.5,541.5 330.5,544.5 340.5,543.5 350.5,544.5 360.5,544.5 370.5,544.5 380.5,544.5 390.5,542.5 400.5,530.5 410.5,536.5 420.5,502.5 430.5,530.5 440.5,544.5 450.5,544.5 460.5,539.5 470.5,544.5 480.5,544.5 490.5,544.5 500.5,542.5 510.5,544.5 520.5,544.5 530.5,545.5 540.5,539.5 550.5,544.5 560.5,537.5 570.5,544.5 580.5,544.5 590.5,544.5 600.5,540.5 610.5,544.5 620.5,545.5 630.5,543.5 640.5,537.5 650.5,545.5 660.5,543.5 670.5,544.5 680.5,544.5 690.5,544.5"/>
<polyline stroke="#E0C8A0" stroke-width="1" marker-start="url(#k28)" marker-mid="url(#k28)" marker-end="url(#k28)" points="60.5,544.5 70.5,545.5 80.5,545.5 90.5,543.5 100.5,545.5 110.5,545.5 120.5,545.5 130.5,545.5 140.5,543.5 150.5,545.5 160.5,545.5 170.5,545.5 180.5,545.5 190.5,545.5 200.5,544.5 210.5,544.5 220.5,544.5 230.5,545.5 240.5,544.5 250.5,544.5 260.5,544.5 270.5,544.5 280.5,544.5 290.5,544.5 300.5,543.5 310.5,543.5 320.5,535.5 330.5,543.5 340.5,544.5 350.5,543.5 360.5,544.5 370.5,542.5 380.5,543.5 390.5,544.5 400.5,544.5 410.5,541.5 420.5,544.5 430.5,544.5 440.5,542.5 450.5,544.5 460.5,544.5 470.5,540.5 480.5,544.5 490.5,544.5 500.5,544.5 510.5,544.5 520.5,544.5 530.5,544.5 540.5,544.5 550.5,544.5 560.5,544.5 570.5,545.5 580.5,544.5 590.5,535.5 600.5,536.5 610.5,544.5 620.5,544.5 630.5,544.5 640.5,544.5 650.5,544.5 660.5,542.5 670.5,537.5 680.5,543.5 690.5,542.5"/>
<polyline stroke="#880808" stroke-width="1" marker-start="url(#k29)" marker-mid="url(#k29)" marker-end="url(#k29)" points="60.5,545.5 70.5,545.5 80.5,545.5 90.5,545.5 100.5,545.5 110.5,545.5 120.5,545.5 130.5,545.5 140.5,545.5 150.5,545.5 160.5,545.5 170.5,545.5 180.5,545.5 190.5,544.5 200.5,544.5 210.5,544.5 220.5,544.5 230.5,543.5 240.5,544.5 250.5,544.5 260.5,544.5 270.5,544.5 280.5,544.5 290.5,544.5 300.5,544.5 310.5,544.5 320.5,544.5 330.5,544.5 340.5,544.5 350.5,543.5 360.5,544.5 370.5,538.5 380.5,540.5 390.5,504.5 400.5,536.5 410.5,544.5 420.5,539.5 430.5,544.5 440.5,544.5 450.5,542.5 460.5,544.5 470.5,544.5 480.5,544.5 490.5,544.5 500.5,544.5 510.5,544.5 520.5,545.5 530.5,544.5 540.5,537.5 550.5,544.5 560.5,544.5 570.5,544.5 580.5,543.5 590.5,544.5 600.5,544.5 610.5,544.5 620.5,544.5 630.5,544.5 640.5,542.5 650.5,544.5 660.5,544.5 670.5,540.5 680.5,530.5 690.5,544.5"/>
<polyline stroke="#0830B8" stroke-width="1" marker-start="url(#k30)" marker-mid="url(#k30)" marker-end="url(#k30)" points="60.5,544.5 70.5,544.5 80.5,545.5 90.5,545.5 100.5,545.5 110.5,545.5 120.5,540.5 130.5,545.5 140.5,545.5 150.5,545.5 160.5,545.5 170.5,545.5 180.5,545.5 190.5,545.5 200.5,544.5 210.5,542.5 220.5,540.5 230.5,500.5 240.5,539.5 250.5,545.5 260.5,544.5 270.5,544.5 280.5,545.5 290.5,544.5 300.5,544.5 310.5,545.5 320.5,544.5 330.5,545.5 340.5,545.5 350.5,540.5 360.5,544.5 370.5,544.5 380.5,543.5 390.5,544.5 400.5,543.5 410.5,542.5 420.5,538.5 430.5,543.5 440.5,530.5 450.5,523.5 460.5,538.5 470.5,542.5 480.5,541.5 490.5,495.5 500.5,489.5 510.5,529.5 520.5,535.5 530.5,544.5 540.5,544.5 550.5,544.5 560.5,542.5 570.5,544.5 580.5,544.5 590.5,544.5 600.5,539.5 610.5,544.5 620.5,544.5 630.5,536.5 640.5,544.5 650.5,544.5 660.5,544.5 670.5,544.5 680.5,544.5 690.5,536.5"/>
<polyline stroke="#ff0000" stroke-width="3" points="60.5,544.5 70.5,544.5 80.5,544.5 90.5,544.5 100.5,544.5 110.5,544.5 120.5,543.5 130.5,544.5 140.5,544.5 150.5,544.5 160.5,544.5 170.5,544.5 180.5,544.5 190.5,544.5 200.5,544.5 210.5,543.5 220.5,542.5 230.5,538.5 240.5,543.5 250.5,542.5 260.5,544.5 270.5,544.5 280.5,544.5 290.5,544.5 300.5,544.5 310.5,544.5 320.5,544.5 330.5,544.5 340.5,542.5 350.5,542.5 360.5,543.5 370.5,542.5 380.5,540.5 390.5,541.5 400.5,542.5 410.5,542.5 420.5,536.5 430.5,540.5 440.5,540.5 450.5,541.5 460.5,540.5 470.5,542.5 480.5,541.5 490.5,540.5 500.5,539.5 510.5,540.5 520.5,541.5 530.5,539.5 540.5,536.5 550.5,538.5 560.5,540.5 570.5,536.5 580.5,538.5 590.5,539.5 600.5,541.5 610.5,542.5 620.5,540.5 630.5,541.5 640.5,542.5 650.5,541.5 660.5,539.5 670.5,541.5 680.5,542.5 690.5,545.5"/>
<polyline stroke="#000000" stroke-width="2.8" points="50.5,291.5 60.5,304.5 70.5,307.5 80.5,293.5 90.5,290.5 100.5,287.5 110.5,283.5 120.5,252.5 130.5,242.5 140.5,243.5 150.5,246.5 160.5,242.5 170.5,250.5 180.5,257.5 190.5,263.5 200.5,258.5 210.5,260.5 220.5,262.5 230.5,262.5 240.5,252.5 250.5,256.5 260.5,260.5 270.5,264.5 280.5,258.5 290.5,261.5 300.5,274.5 310.5,282.5 320.5,287.5 330.5,296.5 340.5,303.5 350.5,311.5 360.5,308.5 370.5,322.5 380.5,332.5 390.5,340.5 400.5,334.5 410.5,334.5 420.5,339.5 430.5,337.5 440.5,313.5 450.5,310.5 460.5,308.5 470.5,303.5 480.5,287.5 490.5,280.5 500.5,276.5 510.5,271.5 520.5,245.5 530.5,255.5 540.5,268.5 550.5,274.5 560.5,271.5 570.5,272.5 580.5,279.5 590.5,275.5 600.5,267.5 610.5,269.5 620.5,294.5 630.5,314.5 640.5,314.5 650.5,319.5 660.5,323.5 670.5,324.5 680.5,298.5 690.5,286.5"/>
<polyline stroke="#0000ff" stroke-width="2.8" points="50.5,290.5 60.5,303.5 70.5,306.5 80.5,292.5 90.5,288.5 100.5,284.5 110.5,280.5 120.5,251.5 130.5,238.5 140.5,240.5 150.5,244.5 160.5,238.5 170.5,246.5 180.5,255.5 190.5,265.5 200.5,263.5 210.5,267.5 220.5,270.5 230.5,268.5 240.5,251.5 250.5,252.5 260.5,256.5 270.5,261.5 280.5,250.5 290.5,255.5 300.5,263.5 310.5,270.5 320.5,266.5 330.5,280.5 340.5,292.5 350.5,310.5 360.5,308.5 370.5,320.5 380.5,331.5 390.5,337.5 400.5,332.5 410.5,334.5 420.5,341.5 430.5,346.5 440.5,340.5 450.5,349.5 460.5,355.5 470.5,343.5 480.5,314.5 490.5,311.5 500.5,316.5 510.5,311.5 520.5,287.5 530.5,287.5 540.5,277.5 550.5,273.5 560.5,256.5 570.5,251.5 580.5,240.5 590.5,240.5 600.5,221.5 610.5,212.5 620.5,217.5 630.5,221.5 640.5,204.5 650.5,201.5 660.5,217.5 670.5,222.5 680.5,216.5 690.5,228.5"/>
<polyline stroke="#E67E30" stroke-width="1" marker-start="url(#k1)" marker-mid="url(#k1)" marker-end="url(#k1)" points="50.5,290.5 60.5,303.5 70.5,305.5 80.5,291.5 90.5,288.5 100.5,285.5 110.5,285.5 120.5,254.5 130.5,241.5 140.5,243.5 150.5,244.5 160.5,243.5 170.5,256.5 180.5,268.5 190.5,278.5 200.5,280.5 210.5,299.5 220.5,302.5 230.5,296.5 240.5,270.5 250.5,263.5 260.5,255.5 270.5,248.5 280.5,239.5 290.5,243.5 300.5,258.5 310.5,270.5 320.5,274.5 330.5,279.5 340.5,288.5 350.5,297.5 360.5,289.5 370.5,303.5 380.5,310.5 390.5,307.5 400.5,287.5 410.5,282.5 420.5,295.5 430.5,293.5 440.5,278.5 450.5,284.5 460.5,276.5 470.5,278.5 480.5,272.5 490.5,255.5 500.5,261.5 510.5,267.5 520.5,251.5 530.5,269.5 540.5,271.5 550.5,268.5 560.5,263.5 570.5,266.5 580.5,270.5 590.5,266.5 600.5,240.5 610.5,244.5 620.5,242.5 630.5,239.5 640.5,222.5 650.5,226.5 660.5,233.5 670.5,238.5 680.5,236.5 690.5,255.5"/>
<polyline stroke="#7DC46E" stroke-width="1" marker-start="url(#k2)" marker-mid="url(#k2)" marker-end="url(#k2)" points="50.5,290.5 60.5,303.5 70.5,305.5 80.5,295.5 90.5,297.5 100.5,293.5 110.5,288.5 120.5,259.5 130.5,242.5 140.5,240.5 150.5,245.5 160.5,241.5 170.5,252.5 180.5,259.5 190.5,269.5 200.5,267.5 210.5,269.5 220.5,284.5 230.5,282.5 240.5,266.5 250.5,267.5 260.5,268.5 270.5,268.5 280.5,239.5 290.5,244.5 300.5,258.5 310.5,258.5 320.5,256.5 330.5,274.5 340.5,286.5 350.5,311.5 360.5,283.5 370.5,286.5 380.5,281.5 390.5,274.5 400.5,251.5 410.5,253.5 420.5,257.5 430.5,254.5 440.5,241.5 450.5,254.5 460.5,265.5 470.5,280.5 480.5,269.5 490.5,277.5 500.5,285.5 510.5,292.5 520.5,279.5 530.5,305.5 540.5,316.5 550.5,316.5 560.5,329.5 570.5,317.5 580.5,326.5 590.5,325.5 600.5,317.5 610.5,322.5 620.5,327.5 630.5,330.5 640.5,318.5 650.5,330.5 660.5,336.5 670.5,330.5 680.5,327.5 690.5,327.5"/>
<polyline stroke="#F0C010" stroke-width="1" marker-start="url(#k3)" marker-mid="url(#k3)" marker-end="url(#k3)" points="50.5,289.5 60.5,302.5 70.5,304.5 80.5,288.5 90.5,283.5 100.5,275.5 110.5,271.5 120.5,240.5 130.5,229.5 140.5,231.5 150.5,236.5 160.5,233.5 170.5,241.5 180.5,250.5 190.5,257.5 200.5,249.5 210.5,253.5 220.5,262.5 230.5,254.5 240.5,239.5 250.5,235.5 260.5,239.5 270.5,242.5 280.5,224.5 290.5,229.5 300.5,244.5 310.5,258.5 320.5,258.5 330.5,278.5 340.5,294.5 350.5,311.5 360.5,290.5 370.5,308.5 380.5,323.5 390.5,320.5 400.5,305.5 410.5,323.5 420.5,305.5 430.5,310.5 440.5,317.5 450.5,310.5 460.5,318.5 470.5,330.5 480.5,311.5 490.5,316.5 500.5,324.5 510.5,320.5 520.5,309.5 530.5,316.5 540.5,325.5 550.5,327.5 560.5,306.5 570.5,297.5 580.5,301.5 590.5,305.5 600.5,315.5 610.5,328.5 620.5,319.5 630.5,319.5 640.5,319.5 650.5,333.5 660.5,349.5 670.5,350.5 680.5,348.5 690.5,354.5"/>
<polyline stroke="#8E44AD" stroke-width="1" marker-start="url(#k4)" marker-mid="url(#k4)" marker-end="url(#k4)" points="50.5,290.5 60.5,303.5 70.5,305.5 80.5,295.5 90.5,300.5 100.5,295.5 110.5,288.5 120.5,259.5 130.5,247.5 140.5,247.5 150.5,253.5 160.5,249.5 170.5,261.5 180.5,270.5 190.5,282.5 200.5,281.5 210.5,286.5 220.5,290.5 230.5,291.5 240.5,277.5 250.5,280.5 260.5,286.5 270.5,291.5 280.5,281.5 290.5,290.5 300.5,289.5 310.5,304.5 320.5,304.5 330.5,318.5 340.5,328.5 350.5,336.5 360.5,315.5 370.5,320.5 380.5,326.5 390.5,330.5 400.5,315.5 410.5,312.5 420.5,313.5 430.5,300.5 440.5,278.5 450.5,263.5 460.5,263.5 470.5,268.5 480.5,259.5 490.5,266.5 500.5,270.5 510.5,274.5 520.5,284.5 530.5,296.5 540.5,306.5 550.5,319.5 560.5,315.5 570.5,335.5 580.5,342.5 590.5,352.5 600.5,355.5 610.5,362.5 620.5,369.5 630.5,362.5 640.5,338.5 650.5,330.5 660.5,322.5 670.5,310.5 680.5,300.5 690.5,295.5"/>
<polyline stroke="#B8500E" stroke-width="1" marker-start="url(#k5)" marker-mid="url(#k5)" marker-end="url(#k5)" points="50.5,290.5 60.5,303.5 70.5,305.5 80.5,295.5 90.5,291.5 100.5,287.5 110.5,288.5 120.5,254.5 130.5,239.5 140.5,241.5 150.5,247.5 160.5,245.5 170.5,251.5 180.5,266.5 190.5,273.5 200.5,262.5 210.5,257.5 220.5,253.5 230.5,246.5 240.5,230.5 250.5,223.5 260.5,231.5 270.5,238.5 280.5,232.5 290.5,248.5 300.5,263.5 310.5,275.5 320.5,280.5 330.5,289.5 340.5,302.5 350.5,327.5 360.5,327.5 370.5,330.5 380.5,348.5 390.5,349.5 400.5,341.5 410.5,339.5 420.5,333.5 430.5,316.5 440.5,314.5 450.5,331.5 460.5,318.5 470.5,300.5 480.5,267.5 490.5,283.5 500.5,284.5 510.5,284.5 520.5,278.5 530.5,285.5 540.5,276.5 550.5,286.5 560.5,263.5 570.5,268.5 580.5,278.5 590.5,283.5 600.5,273.5 610.5,275.5 620.5,280.5 630.5,276.5 640.5,281.5 650.5,293.5 660.5,299.5 670.5,299.5 680.5,277.5 690.5,268.5"/>
<polyline stroke="#55800B" stroke-width="1" marker-start="url(#k6)" marker-mid="url(#k6)" marker-end="url(#k6)" points="50.5,290.5 60.5,303.5 70.5,305.5 80.5,293.5 90.5,290.5 100.5,286.5 110.5,283.5 120.5,249.5 130.5,235.5 140.5,236.5 150.5,243.5 160.5,239.5 170.5,248.5 180.5,256.5 190.5,270.5 200.5,272.5 210.5,274.5 220.5,282.5 230.5,278.5 240.5,262.5 250.5,269.5 260.5,279.5 270.5,277.5 280.5,267.5 290.5,273.5 300.5,269.5 310.5,281.5 320.5,271.5 330.5,288.5 340.5,290.5 350.5,288.5 360.5,282.5 370.5,299.5 380.5,300.5 390.5,311.5 400.5,298.5 410.5,296.5 420.5,305.5 430.5,292.5 440.5,273.5 450.5,274.5 460.5,290.5 470.5,291.5 480.5,282.5 490.5,278.5 500.5,288.5 510.5,312.5 520.5,293.5 530.5,322.5 540.5,323.5 550.5,323.5 560.5,315.5 570.5,322.5 580.5,314.5 590.5,298.5 600.5,295.5 610.5,309.5 620.5,323.5 630.5,341.5 640.5,329.5 650.5,335.5 660.5,340.5 670.5,341.5 680.5,326.5 690.5,325.5"/>
<polyline stroke="#0A7FF5" stroke-width="1" marker-start="url(#k7)" marker-mid="url(#k7)" marker-end="url(#k7)" points="50.5,289.5 60.5,301.5 70.5,299.5 80.5,287.5 90.5,285.5 100.5,282.5 110.5,277.5 120.5,246.5 130.5,234.5 140.5,240.5 150.5,244.5 160.5,242.5 170.5,253.5 180.5,263.5 190.5,268.5 200.5,273.5 210.5,284.5 220.5,279.5 230.5,278.5 240.5,266.5 250.5,270.5 260.5,273.5 270.5,275.5 280.5,256.5 290.5,260.5 300.5,276.5 310.5,275.5 320.5,262.5 330.5,277.5 340.5,275.5 350.5,284.5 360.5,277.5 370.5,289.5 380.5,295.5 390.5,286.5 400.5,274.5 410.5,275.5 420.5,275.5 430.5,284.5 440.5,267.5 450.5,285.5 460.5,306.5 470.5,295.5 480.5,274.5 490.5,262.5 500.5,284.5 510.5,278.5 520.5,273.5 530.5,281.5 540.5,280.5 550.5,294.5 560.5,292.5 570.5,298.5 580.5,312.5 590.5,327.5 600.5,334.5 610.5,337.5 620.5,340.5 630.5,335.5 640.5,322.5 650.5,305.5 660.5,296.5 670.5,290.5 680.5,285.5 690.5,282.5"/>
<polyline stroke="#E8D8A8" stroke-width="1" marker-start="url(#k8)" marker-mid="url(#k8)" marker-end="url(#k8)" points="50.5,290.5 60.5,303.5 70.5,305.5 80.5,295.5 90.5,293.5 100.5,289.5 110.5,284.5 120.5,257.5 130.5,243.5 140.5,244.5 150.5,247.5 160.5,244.5 170.5,251.5 180.5,261.5 190.5,265.5 200.5,258.5 210.5,266.5 220.5,272.5 230.5,269.5 240.5,256.5 250.5,260.5 260.5,258.5 270.5,259.5 280.5,247.5 290.5,258.5 300.5,265.5 310.5,260.5 320.5,261.5 330.5,278.5 340.5,290.5 350.5,300.5 360.5,299.5 370.5,307.5 380.5,298.5 390.5,290.5 400.5,278.5 410.5,280.5 420.5,274.5 430.5,284.5 440.5,255.5 450.5,267.5 460.5,266.5 470.5,267.5 480.5,264.5 490.5,272.5 500.5,280.5 510.5,287.5 520.5,274.5 530.5,265.5 540.5,269.5 550.5,276.5 560.5,267.5 570.5,271.5 580.5,281.5 590.5,298.5 600.5,292.5 610.5,302.5 620.5,304.5 630.5,303.5 640.5,292.5 650.5,292.5 660.5,291.5 670.5,275.5 680.5,260.5 690.5,264.5"/>
<polyline stroke="#3A8BC0" stroke-width="1" marker-start="url(#k9)" marker-mid="url(#k9)" marker-end="url(#k9)" points="50.5,290.5 60.5,303.5 70.5,305.5 80.5,291.5 90.5,288.5 100.5,284.5 110.5,277.5 120.5,248.5 130.5,234.5 140.5,235.5 150.5,242.5 160.5,238.5 170.5,248.5 180.5,259.5 190.5,269.5 200.5,269.5 210.5,270.5 220.5,274.5 230.5,270.5 240.5,251.5 250.5,254.5 260.5,255.5 270.5,249.5 280.5,230.5 290.5,226.5 300.5,230.5 310.5,235.5 320.5,221.5 330.5,230.5 340.5,241.5 350.5,255.5 360.5,252.5 370.5,271.5 380.5,285.5 390.5,296.5 400.5,300.5 410.5,302.5 420.5,305.5 430.5,300.5 440.5,290.5 450.5,292.5 460.5,296.5 470.5,300.5 480.5,290.5 490.5,296.5 500.5,305.5 510.5,312.5 520.5,325.5 530.5,346.5 540.5,338.5 550.5,336.5 560.5,314.5 570.5,305.5 580.5,300.5 590.5,296.5 600.5,298.5 610.5,312.5 620.5,326.5 630.5,328.5 640.5,333.5 650.5,335.5 660.5,330.5 670.5,331.5 680.5,314.5 690.5,308.5"/>
<polyline stroke="#E8A858" stroke-width="1" marker-start="url(#k10)" marker-mid="url(#k10)" marker-end="url(#k10)" points="50.5,290.5 60.5,303.5 70.5,305.5 80.5,295.5 90.5,295.5 100.5,291.5 110.5,286.5 120.5,258.5 130.5,240.5 140.5,237.5 150.5,238.5 160.5,233.5 170.5,241.5 180.5,250.5 190.5,258.5 200.5,252.5 210.5,253.5 220.5,262.5 230.5,259.5 240.5,247.5 250.5,249.5 260.5,250.5 270.5,260.5 280.5,241.5 290.5,248.5 300.5,264.5 310.5,270.5 320.5,267.5 330.5,268.5 340.5,288.5 350.5,301.5 360.5,282.5 370.5,293.5 380.5,290.5 390.5,304.5 400.5,281.5 410.5,278.5 420.5,285.5 430.5,285.5 440.5,271.5 450.5,271.5 460.5,277.5 470.5,275.5 480.5,261.5 490.5,242.5 500.5,263.5 510.5,265.5 520.5,244.5 530.5,254.5 540.5,264.5 550.5,278.5 560.5,261.5 570.5,274.5 580.5,276.5 590.5,299.5 600.5,287.5 610.5,298.5 620.5,297.5 630.5,285.5 640.5,283.5 650.5,295.5 660.5,307.5 670.5,317.5 680.5,291.5 690.5,271.5"/>
<polyline stroke="#5F4818" stroke-width="1" marker-start="url(#k11)" marker-mid="url(#k11)" marker-end="url(#k11)" points="50.5,290.5 60.5,303.5 70.5,305.5 80.5,291.5 90.5,290.5 100.5,285.5 110.5,278.5 120.5,244.5 130.5,233.5 140.5,235.5 150.5,237.5 160.5,233.5 170.5,241.5 180.5,250.5 190.5,257.5 200.5,247.5 210.5,253.5 220.5,262.5 230.5,254.5 240.5,240.5 250.5,242.5 260.5,249.5 270.5,253.5 280.5,228.5 290.5,232.5 300.5,238.5 310.5,241.5 320.5,239.5 330.5,250.5 340.5,256.5 350.5,267.5 360.5,260.5 370.5,268.5 380.5,276.5 390.5,279.5 400.5,260.5 410.5,260.5 420.5,261.5 430.5,265.5 440.5,256.5 450.5,269.5 460.5,288.5 470.5,291.5 480.5,274.5 490.5,285.5 500.5,294.5 510.5,289.5 520.5,275.5 530.5,281.5 540.5,292.5 550.5,304.5 560.5,298.5 570.5,308.5 580.5,329.5 590.5,352.5 600.5,356.5 610.5,398.5 620.5,423.5 630.5,433.5 640.5,419.5 650.5,406.5 660.5,388.5 670.5,368.5 680.5,340.5 690.5,339.5"/>
<polyline stroke="#F56A20" stroke-width="1" marker-start="url(#k12)" marker-mid="url(#k12)" marker-end="url(#k12)" points="50.5,290.5 60.5,303.5 70.5,305.5 80.5,295.5 90.5,292.5 100.5,286.5 110.5,279.5 120.5,249.5 130.5,233.5 140.5,235.5 150.5,242.5 160.5,236.5 170.5,243.5 180.5,250.5 190.5,257.5 200.5,252.5 210.5,255.5 220.5,262.5 230.5,263.5 240.5,248.5 250.5,247.5 260.5,246.5 270.5,248.5 280.5,233.5 290.5,238.5 300.5,235.5 310.5,241.5 320.5,250.5 330.5,263.5 340.5,267.5 350.5,282.5 360.5,270.5 370.5,268.5 380.5,271.5 390.5,276.5 400.5,264.5 410.5,263.5 420.5,261.5 430.5,259.5 440.5,246.5 450.5,259.5 460.5,266.5 470.5,272.5 480.5,257.5 490.5,254.5 500.5,259.5 510.5,265.5 520.5,257.5 530.5,267.5 540.5,269.5 550.5,261.5 560.5,250.5 570.5,271.5 580.5,271.5 590.5,284.5 600.5,260.5 610.5,261.5 620.5,275.5 630.5,285.5 640.5,270.5 650.5,280.5 660.5,284.5 670.5,279.5 680.5,275.5 690.5,267.5"/>
<polyline stroke="#D4BC6C" stroke-width="1" marker-start="url(#k13)" marker-mid="url(#k13)" marker-end="url(#k13)" points="50.5,289.5 60.5,300.5 70.5,301.5 80.5,282.5 90.5,280.5 100.5,278.5 110.5,267.5 120.5,236.5 130.5,229.5 140.5,236.5 150.5,250.5 160.5,252.5 170.5,261.5 180.5,265.5 190.5,275.5 200.5,268.5 210.5,278.5 220.5,281.5 230.5,278.5 240.5,254.5 250.5,256.5 260.5,253.5 270.5,249.5 280.5,229.5 290.5,228.5 300.5,238.5 310.5,244.5 320.5,257.5 330.5,272.5 340.5,283.5 350.5,306.5 360.5,298.5 370.5,305.5 380.5,306.5 390.5,302.5 400.5,304.5 410.5,314.5 420.5,333.5 430.5,326.5 440.5,304.5 450.5,302.5 460.5,312.5 470.5,293.5 480.5,280.5 490.5,289.5 500.5,306.5 510.5,304.5 520.5,299.5 530.5,295.5 540.5,295.5 550.5,288.5 560.5,289.5 570.5,305.5 580.5,304.5 590.5,296.5 600.5,284.5 610.5,306.5 620.5,321.5 630.5,315.5 640.5,298.5 650.5,308.5 660.5,320.5 670.5,317.5 680.5,314.5 690.5,313.5"/>
<polyline stroke="#0AD860" stroke-width="1" marker-start="url(#k14)" marker-mid="url(#k14)" marker-end="url(#k14)" points="50.5,290.5 60.5,303.5 70.5,305.5 80.5,293.5 90.5,292.5 100.5,290.5 110.5,283.5 120.5,252.5 130.5,237.5 140.5,238.5 150.5,241.5 160.5,241.5 170.5,246.5 180.5,259.5 190.5,260.5 200.5,257.5 210.5,262.5 220.5,267.5 230.5,267.5 240.5,252.5 250.5,254.5 260.5,247.5 270.5,244.5 280.5,224.5 290.5,230.5 300.5,241.5 310.5,249.5 320.5,239.5 330.5,251.5 340.5,270.5 350.5,283.5 360.5,272.5 370.5,276.5 380.5,277.5 390.5,282.5 400.5,270.5 410.5,273.5 420.5,278.5 430.5,282.5 440.5,263.5 450.5,272.5 460.5,264.5 470.5,264.5 480.5,249.5 490.5,250.5 500.5,240.5 510.5,242.5 520.5,231.5 530.5,232.5 540.5,237.5 550.5,240.5 560.5,225.5 570.5,223.5 580.5,224.5 590.5,230.5 600.5,222.5 610.5,227.5 620.5,232.5 630.5,240.5 640.5,247.5 650.5,263.5 660.5,276.5 670.5,286.5 680.5,280.5 690.5,272.5"/>
<polyline stroke="#1F4060" stroke-width="1" marker-start="url(#k15)" marker-mid="url(#k15)" marker-end="url(#k15)" points="50.5,290.5 60.5,303.5 70.5,305.5 80.5,294.5 90.5,293.5 100.5,288.5 110.5,282.5 120.5,251.5 130.5,240.5 140.5,244.5 150.5,247.5 160.5,241.5 170.5,251.5 180.5,261.5 190.5,267.5 200.5,259.5 210.5,263.5 220.5,270.5 230.5,264.5 240.5,245.5 250.5,248.5 260.5,245.5 270.5,248.5 280.5,239.5 290.5,241.5 300.5,243.5 310.5,254.5 320.5,249.5 330.5,264.5 340.5,267.5 350.5,291.5 360.5,268.5 370.5,278.5 380.5,287.5 390.5,299.5 400.5,278.5 410.5,283.5 420.5,287.5 430.5,296.5 440.5,293.5 450.5,294.5 460.5,302.5 470.5,283.5 480.5,283.5 490.5,298.5 500.5,296.5 510.5,293.5 520.5,282.5 530.5,303.5 540.5,317.5 550.5,330.5 560.5,295.5 570.5,290.5 580.5,309.5 590.5,297.5 600.5,295.5 610.5,315.5 620.5,325.5 630.5,330.5 640.5,317.5 650.5,308.5 660.5,309.5 670.5,310.5 680.5,290.5 690.5,297.5"/>
<polyline stroke="#6A7680" stroke-width="1" marker-start="url(#k16)" marker-mid="url(#k16)" marker-end="url(#k16)" points="50.5,290.5 60.5,303.5 70.5,305.5 80.5,291.5 90.5,288.5 100.5,284.5 110.5,276.5 120.5,242.5 130.5,233.5 140.5,235.5 150.5,237.5 160.5,233.5 170.5,241.5 180.5,250.5 190.5,257.5 200.5,247.5 210.5,255.5 220.5,264.5 230.5,267.5 240.5,258.5 250.5,256.5 260.5,257.5 270.5,265.5 280.5,249.5 290.5,251.5 300.5,258.5 310.5,271.5 320.5,262.5 330.5,282.5 340.5,292.5 350.5,304.5 360.5,307.5 370.5,320.5 380.5,328.5 390.5,321.5 400.5,294.5 410.5,289.5 420.5,294.5 430.5,312.5 440.5,282.5 450.5,290.5 460.5,285.5 470.5,271.5 480.5,254.5 490.5,268.5 500.5,277.5 510.5,294.5 520.5,275.5 530.5,290.5 540.5,301.5 550.5,303.5 560.5,298.5 570.5,291.5 580.5,287.5 590.5,283.5 600.5,270.5 610.5,300.5 620.5,295.5 630.5,315.5 640.5,304.5 650.5,309.5 660.5,314.5 670.5,306.5 680.5,302.5 690.5,299.5"/>
<polyline stroke="#E878F8" stroke-width="1" marker-start="url(#k17)" marker-mid="url(#k17)" marker-end="url(#k17)" points="50.5,290.5 60.5,304.5 70.5,307.5 80.5,284.5 90.5,283.5 100.5,280.5 110.5,277.5 120.5,244.5 130.5,233.5 140.5,235.5 150.5,237.5 160.5,233.5 170.5,241.5 180.5,250.5 190.5,257.5 200.5,247.5 210.5,253.5 220.5,262.5 230.5,254.5 240.5,238.5 250.5,235.5 260.5,239.5 270.5,242.5 280.5,224.5 290.5,228.5 300.5,235.5 310.5,249.5 320.5,251.5 330.5,272.5 340.5,295.5 350.5,320.5 360.5,328.5 370.5,336.5 380.5,341.5 390.5,334.5 400.5,327.5 410.5,332.5 420.5,328.5 430.5,325.5 440.5,323.5 450.5,338.5 460.5,351.5 470.5,334.5 480.5,315.5 490.5,322.5 500.5,328.5 510.5,341.5 520.5,326.5 530.5,329.5 540.5,323.5 550.5,315.5 560.5,295.5 570.5,289.5 580.5,286.5 590.5,287.5 600.5,256.5 610.5,256.5 620.5,257.5 630.5,257.5 640.5,248.5 650.5,252.5 660.5,263.5 670.5,257.5 680.5,244.5 690.5,246.5"/>
<polyline stroke="#8020F0" stroke-width="1" marker-start="url(#k18)" marker-mid="url(#k18)" marker-end="url(#k18)" points="50.5,290.5 60.5,303.5 70.5,305.5 80.5,294.5 90.5,290.5 100.5,288.5 110.5,287.5 120.5,258.5 130.5,244.5 140.5,246.5 150.5,246.5 160.5,235.5 170.5,241.5 180.5,246.5 190.5,249.5 200.5,239.5 210.5,247.5 220.5,254.5 230.5,261.5 240.5,254.5 250.5,273.5 260.5,261.5 270.5,255.5 280.5,232.5 290.5,228.5 300.5,232.5 310.5,242.5 320.5,238.5 330.5,254.5 340.5,270.5 350.5,281.5 360.5,268.5 370.5,270.5 380.5,281.5 390.5,286.5 400.5,266.5 410.5,239.5 420.5,248.5 430.5,265.5 440.5,251.5 450.5,259.5 460.5,263.5 470.5,253.5 480.5,240.5 490.5,252.5 500.5,260.5 510.5,284.5 520.5,270.5 530.5,277.5 540.5,287.5 550.5,292.5 560.5,294.5 570.5,307.5 580.5,332.5 590.5,345.5 600.5,336.5 610.5,342.5 620.5,364.5 630.5,375.5 640.5,352.5 650.5,351.5 660.5,336.5 670.5,317.5 680.5,300.5 690.5,290.5"/>
<polyline stroke="#7A5A28" stroke-width="1" marker-start="url(#k19)" marker-mid="url(#k19)" marker-end="url(#k19)" points="50.5,290.5 60.5,303.5 70.5,305.5 80.5,291.5 90.5,290.5 100.5,289.5 110.5,286.5 120.5,260.5 130.5,250.5 140.5,247.5 150.5,261.5 160.5,255.5 170.5,266.5 180.5,278.5 190.5,285.5 200.5,289.5 210.5,295.5 220.5,298.5 230.5,309.5 240.5,289.5 250.5,285.5 260.5,287.5 270.5,298.5 280.5,279.5 290.5,286.5 300.5,289.5 310.5,282.5 320.5,273.5 330.5,281.5 340.5,297.5 350.5,300.5 360.5,306.5 370.5,297.5 380.5,297.5 390.5,307.5 400.5,301.5 410.5,297.5 420.5,287.5 430.5,285.5 440.5,263.5 450.5,265.5 460.5,267.5 470.5,271.5 480.5,254.5 490.5,250.5 500.5,250.5 510.5,248.5 520.5,252.5 530.5,266.5 540.5,279.5 550.5,284.5 560.5,287.5 570.5,290.5 580.5,297.5 590.5,303.5 600.5,286.5 610.5,306.5 620.5,306.5 630.5,317.5 640.5,316.5 650.5,324.5 660.5,322.5 670.5,326.5 680.5,317.5 690.5,304.5"/>
<polyline stroke="#300870" stroke-width="1" marker-start="url(#k20)" marker-mid="url(#k20)" marker-end="url(#k20)" points="50.5,290.5 60.5,303.5 70.5,305.5 80.5,291.5 90.5,288.5 100.5,284.5 110.5,280.5 120.5,247.5 130.5,236.5 140.5,242.5 150.5,245.5 160.5,245.5 170.5,248.5 180.5,262.5 190.5,267.5 200.5,263.5 210.5,266.5 220.5,266.5 230.5,259.5 240.5,244.5 250.5,248.5 260.5,257.5 270.5,255.5 280.5,242.5 290.5,240.5 300.5,242.5 310.5,263.5 320.5,257.5 330.5,273.5 340.5,276.5 350.5,278.5 360.5,286.5 370.5,301.5 380.5,296.5 390.5,299.5 400.5,280.5 410.5,287.5 420.5,285.5 430.5,288.5 440.5,274.5 450.5,270.5 460.5,264.5 470.5,259.5 480.5,246.5 490.5,249.5 500.5,260.5 510.5,272.5 520.5,264.5 530.5,270.5 540.5,273.5 550.5,282.5 560.5,276.5 570.5,278.5 580.5,271.5 590.5,259.5 600.5,227.5 610.5,230.5 620.5,239.5 630.5,242.5 640.5,232.5 650.5,244.5 660.5,253.5 670.5,268.5 680.5,269.5 690.5,282.5"/>
<polyline stroke="#F0D008" stroke-width="1" marker-start="url(#k21)" marker-mid="url(#k21)" marker-end="url(#k21)" points="50.5,290.5 60.5,304.5 70.5,307.5 80.5,296.5 90.5,296.5 100.5,295.5 110.5,293.5 120.5,258.5 130.5,241.5 140.5,239.5 150.5,243.5 160.5,236.5 170.5,247.5 180.5,253.5 190.5,264.5 200.5,262.5 210.5,267.5 220.5,280.5 230.5,278.5 240.5,260.5 250.5,264.5 260.5,260.5 270.5,250.5 280.5,228.5 290.5,223.5 300.5,225.5 310.5,237.5 320.5,230.5 330.5,245.5 340.5,258.5 350.5,266.5 360.5,252.5 370.5,260.5 380.5,266.5 390.5,258.5 400.5,230.5 410.5,229.5 420.5,231.5 430.5,226.5 440.5,202.5 450.5,202.5 460.5,211.5 470.5,217.5 480.5,206.5 490.5,218.5 500.5,233.5 510.5,239.5 520.5,230.5 530.5,240.5 540.5,253.5 550.5,261.5 560.5,255.5 570.5,265.5 580.5,279.5 590.5,280.5 600.5,267.5 610.5,267.5 620.5,284.5 630.5,286.5 640.5,262.5 650.5,265.5 660.5,264.5 670.5,257.5 680.5,247.5 690.5,254.5"/>
<polyline stroke="#2868A8" stroke-width="1" marker-start="url(#k22)" marker-mid="url(#k22)" marker-end="url(#k22)" points="50.5,291.5 60.5,308.5 70.5,307.5 80.5,302.5 90.5,303.5 100.5,297.5 110.5,288.5 120.5,255.5 130.5,239.5 140.5,238.5 150.5,243.5 160.5,242.5 170.5,248.5 180.5,258.5 190.5,266.5 200.5,255.5 210.5,257.5 220.5,262.5 230.5,263.5 240.5,246.5 250.5,251.5 260.5,253.5 270.5,251.5 280.5,238.5 290.5,242.5 300.5,242.5 310.5,245.5 320.5,237.5 330.5,244.5 340.5,232.5 350.5,238.5 360.5,241.5 370.5,258.5 380.5,270.5 390.5,285.5 400.5,300.5 410.5,293.5 420.5,286.5 430.5,280.5 440.5,255.5 450.5,251.5 460.5,254.5 470.5,251.5 480.5,236.5 490.5,240.5 500.5,246.5 510.5,250.5 520.5,241.5 530.5,247.5 540.5,253.5 550.5,257.5 560.5,247.5 570.5,253.5 580.5,259.5 590.5,270.5 600.5,270.5 610.5,276.5 620.5,282.5 630.5,273.5 640.5,275.5 650.5,278.5 660.5,290.5 670.5,296.5 680.5,281.5 690.5,256.5"/>
<polyline stroke="#985820" stroke-width="1" marker-start="url(#k23)" marker-mid="url(#k23)" marker-end="url(#k23)" points="50.5,290.5 60.5,303.5 70.5,305.5 80.5,295.5 90.5,292.5 100.5,294.5 110.5,287.5 120.5,252.5 130.5,239.5 140.5,240.5 150.5,246.5 160.5,245.5 170.5,254.5 180.5,263.5 190.5,268.5 200.5,264.5 210.5,266.5 220.5,271.5 230.5,283.5 240.5,273.5 250.5,270.5 260.5,279.5 270.5,286.5 280.5,275.5 290.5,280.5 300.5,291.5 310.5,300.5 320.5,296.5 330.5,310.5 340.5,322.5 350.5,336.5 360.5,332.5 370.5,336.5 380.5,347.5 390.5,348.5 400.5,334.5 410.5,336.5 420.5,338.5 430.5,352.5 440.5,341.5 450.5,337.5 460.5,324.5 470.5,311.5 480.5,300.5 490.5,309.5 500.5,320.5 510.5,319.5 520.5,317.5 530.5,322.5 540.5,322.5 550.5,316.5 560.5,294.5 570.5,286.5 580.5,287.5 590.5,285.5 600.5,256.5 610.5,267.5 620.5,267.5 630.5,267.5 640.5,260.5 650.5,252.5 660.5,270.5 670.5,264.5 680.5,264.5 690.5,261.5"/>
<polyline stroke="#9888E8" stroke-width="1" marker-start="url(#k24)" marker-mid="url(#k24)" marker-end="url(#k24)" points="50.5,290.5 60.5,303.5 70.5,305.5 80.5,295.5 90.5,290.5 100.5,284.5 110.5,282.5 120.5,244.5 130.5,237.5 140.5,236.5 150.5,239.5 160.5,233.5 170.5,244.5 180.5,257.5 190.5,268.5 200.5,269.5 210.5,278.5 220.5,291.5 230.5,291.5 240.5,274.5 250.5,280.5 260.5,286.5 270.5,289.5 280.5,275.5 290.5,276.5 300.5,279.5 310.5,282.5 320.5,272.5 330.5,276.5 340.5,276.5 350.5,292.5 360.5,292.5 370.5,297.5 380.5,287.5 390.5,280.5 400.5,275.5 410.5,284.5 420.5,290.5 430.5,278.5 440.5,261.5 450.5,272.5 460.5,274.5 470.5,271.5 480.5,254.5 490.5,254.5 500.5,248.5 510.5,265.5 520.5,261.5 530.5,258.5 540.5,256.5 550.5,272.5 560.5,271.5 570.5,271.5 580.5,292.5 590.5,288.5 600.5,271.5 610.5,284.5 620.5,288.5 630.5,293.5 640.5,281.5 650.5,277.5 660.5,270.5 670.5,273.5 680.5,270.5 690.5,262.5"/>
<polyline stroke="#A0F840" stroke-width="1" marker-start="url(#k25)" marker-mid="url(#k25)" marker-end="url(#k25)" points="50.5,290.5 60.5,303.5 70.5,305.5 80.5,293.5 90.5,289.5 100.5,284.5 110.5,279.5 120.5,246.5 130.5,233.5 140.5,238.5 150.5,243.5 160.5,242.5 170.5,255.5 180.5,257.5 190.5,259.5 200.5,257.5 210.5,254.5 220.5,262.5 230.5,266.5 240.5,252.5 250.5,257.5 260.5,264.5 270.5,271.5 280.5,266.5 290.5,278.5 300.5,282.5 310.5,285.5 320.5,285.5 330.5,312.5 340.5,338.5 350.5,356.5 360.5,340.5 370.5,351.5 380.5,351.5 390.5,352.5 400.5,334.5 410.5,332.5 420.5,328.5 430.5,323.5 440.5,304.5 450.5,298.5 460.5,300.5 470.5,305.5 480.5,300.5 490.5,305.5 500.5,309.5 510.5,310.5 520.5,307.5 530.5,326.5 540.5,341.5 550.5,347.5 560.5,348.5 570.5,378.5 580.5,378.5 590.5,375.5 600.5,360.5 610.5,349.5 620.5,343.5 630.5,325.5 640.5,304.5 650.5,303.5 660.5,300.5 670.5,290.5 680.5,270.5 690.5,255.5"/>
<polyline stroke="#D070D0" stroke-width="1" marker-start="url(#k26)" marker-mid="url(#k26)" marker-end="url(#k26)" points="50.5,290.5 60.5,303.5 70.5,305.5 80.5,294.5 90.5,295.5 100.5,293.5 110.5,287.5 120.5,252.5 130.5,240.5 140.5,243.5 150.5,249.5 160.5,247.5 170.5,258.5 180.5,266.5 190.5,276.5 200.5,274.5 210.5,279.5 220.5,285.5 230.5,287.5 240.5,272.5 250.5,279.5 260.5,275.5 270.5,275.5 280.5,276.5 290.5,281.5 300.5,280.5 310.5,284.5 320.5,274.5 330.5,280.5 340.5,295.5 350.5,317.5 360.5,315.5 370.5,329.5 380.5,344.5 390.5,343.5 400.5,325.5 410.5,323.5 420.5,330.5 430.5,326.5 440.5,304.5 450.5,304.5 460.5,297.5 470.5,284.5 480.5,270.5 490.5,277.5 500.5,282.5 510.5,301.5 520.5,291.5 530.5,299.5 540.5,290.5 550.5,290.5 560.5,284.5 570.5,278.5 580.5,288.5 590.5,290.5 600.5,278.5 610.5,276.5 620.5,285.5 630.5,278.5 640.5,263.5 650.5,257.5 660.5,255.5 670.5,254.5 680.5,237.5 690.5,238.5"/>
<polyline stroke="#180898" stroke-width="1" marker-start="url(#k27)" marker-mid="url(#k27)" marker-end="url(#k27)" points="50.5,290.5 60.5,303.5 70.5,305.5 80.5,292.5 90.5,291.5 100.5,285.5 110.5,279.5 120.5,246.5 130.5,233.5 140.5,236.5 150.5,239.5 160.5,238.5 170.5,246.5 180.5,253.5 190.5,264.5 200.5,263.5 210.5,267.5 220.5,265.5 230.5,263.5 240.5,242.5 250.5,247.5 260.5,255.5 270.5,265.5 280.5,258.5 290.5,264.5 300.5,275.5 310.5,289.5 320.5,279.5 330.5,293.5 340.5,318.5 350.5,321.5 360.5,302.5 370.5,304.5 380.5,312.5 390.5,321.5 400.5,312.5 410.5,316.5 420.5,313.5 430.5,318.5 440.5,299.5 450.5,297.5 460.5,300.5 470.5,309.5 480.5,310.5 490.5,298.5 500.5,306.5 510.5,306.5 520.5,296.5 530.5,302.5 540.5,303.5 550.5,308.5 560.5,306.5 570.5,322.5 580.5,332.5 590.5,340.5 600.5,323.5 610.5,320.5 620.5,316.5 630.5,316.5 640.5,301.5 650.5,304.5 660.5,312.5 670.5,309.5 680.5,288.5 690.5,270.5"/>
<polyline stroke="#E0C8A0" stroke-width="1" marker-start="url(#k28)" marker-mid="url(#k28)" marker-end="url(#k28)" points="50.5,290.5 60.5,303.5 70.5,305.5 80.5,295.5 90.5,293.5 100.5,284.5 110.5,277.5 120.5,244.5 130.5,229.5 140.5,230.5 150.5,229.5 160.5,225.5 170.5,233.5 180.5,243.5 190.5,252.5 200.5,247.5 210.5,250.5 220.5,254.5 230.5,248.5 240.5,236.5 250.5,233.5 260.5,234.5 270.5,237.5 280.5,214.5 290.5,217.5 300.5,212.5 310.5,220.5 320.5,215.5 330.5,222.5 340.5,238.5 350.5,258.5 360.5,262.5 370.5,281.5 380.5,287.5 390.5,291.5 400.5,284.5 410.5,272.5 420.5,255.5 430.5,248.5 440.5,233.5 450.5,226.5 460.5,223.5 470.5,223.5 480.5,207.5 490.5,218.5 500.5,236.5 510.5,246.5 520.5,238.5 530.5,250.5 540.5,264.5 550.5,287.5 560.5,277.5 570.5,289.5 580.5,282.5 590.5,266.5 600.5,269.5 610.5,280.5 620.5,297.5 630.5,300.5 640.5,271.5 650.5,278.5 660.5,275.5 670.5,267.5 680.5,245.5 690.5,256.5"/>
<polyline stroke="#880808" stroke-width="1" marker-start="url(#k29)" marker-mid="url(#k29)" marker-end="url(#k29)" points="50.5,290.5 60.5,303.5 70.5,305.5 80.5,295.5 90.5,295.5 100.5,288.5 110.5,286.5 120.5,255.5 130.5,239.5 140.5,239.5 150.5,241.5 160.5,236.5 170.5,245.5 180.5,250.5 190.5,257.5 200.5,255.5 210.5,254.5 220.5,258.5 230.5,257.5 240.5,238.5 250.5,236.5 260.5,234.5 270.5,234.5 280.5,220.5 290.5,222.5 300.5,228.5 310.5,236.5 320.5,229.5 330.5,236.5 340.5,244.5 350.5,242.5 360.5,235.5 370.5,246.5 380.5,257.5 390.5,258.5 400.5,246.5 410.5,244.5 420.5,237.5 430.5,231.5 440.5,210.5 450.5,207.5 460.5,200.5 470.5,212.5 480.5,202.5 490.5,212.5 500.5,228.5 510.5,239.5 520.5,220.5 530.5,226.5 540.5,232.5 550.5,240.5 560.5,228.5 570.5,237.5 580.5,248.5 590.5,254.5 600.5,250.5 610.5,254.5 620.5,259.5 630.5,260.5 640.5,247.5 650.5,255.5 660.5,266.5 670.5,273.5 680.5,279.5 690.5,290.5"/>
<polyline stroke="#0830B8" stroke-width="1" marker-start="url(#k30)" marker-mid="url(#k30)" marker-end="url(#k30)" points="50.5,290.5 60.5,303.5 70.5,305.5 80.5,293.5 90.5,290.5 100.5,286.5 110.5,288.5 120.5,257.5 130.5,247.5 140.5,247.5 150.5,251.5 160.5,248.5 170.5,254.5 180.5,266.5 190.5,272.5 200.5,268.5 210.5,269.5 220.5,278.5 230.5,275.5 240.5,261.5 250.5,271.5 260.5,276.5 270.5,284.5 280.5,274.5 290.5,282.5 300.5,291.5 310.5,296.5 320.5,292.5 330.5,302.5 340.5,304.5 350.5,314.5 360.5,311.5 370.5,328.5 380.5,343.5 390.5,352.5 400.5,350.5 410.5,368.5 420.5,393.5 430.5,390.5 440.5,376.5 450.5,358.5 460.5,339.5 470.5,338.5 480.5,311.5 490.5,300.5 500.5,288.5 510.5,282.5 520.5,259.5 530.5,248.5 540.5,256.5 550.5,262.5 560.5,270.5 570.5,272.5 580.5,272.5 590.5,274.5 600.5,257.5 610.5,244.5 620.5,243.5 630.5,244.5 640.5,237.5 650.5,243.5 660.5,252.5 670.5,257.5 680.5,246.5 690.5,260.5"/>
<polyline stroke="#ff0000" stroke-width="3" points="50.5,290.5 60.5,303.5 70.5,305.5 80.5,292.5 90.5,289.5 100.5,285.5 110.5,282.5 120.5,251.5 130.5,237.5 140.5,238.5 150.5,243.5 160.5,239.5 170.5,248.5 180.5,257.5 190.5,265.5 200.5,261.5 210.5,265.5 220.5,269.5 230.5,269.5 240.5,254.5 250.5,254.5 260.5,256.5 270.5,258.5 280.5,246.5 290.5,251.5 300.5,259.5 310.5,267.5 320.5,261.5 330.5,274.5 340.5,284.5 350.5,297.5 360.5,291.5 370.5,300.5 380.5,305.5 390.5,306.5 400.5,293.5 410.5,296.5 420.5,297.5 430.5,299.5 440.5,283.5 450.5,287.5 460.5,290.5 470.5,287.5 480.5,272.5 490.5,276.5 500.5,282.5 510.5,286.5 520.5,277.5 530.5,283.5 540.5,289.5 550.5,293.5 560.5,283.5 570.5,285.5 580.5,290.5 590.5,294.5 600.5,283.5 610.5,287.5 620.5,292.5 630.5,293.5 640.5,284.5 650.5,288.5 660.5,292.5 670.5,293.5 680.5,278.5 690.5,278.5"/>
</g>
<text class="m" x="59" y="221" textLength="48" lengthAdjust="spacingAndGlyphs">Pression</text><text class="m" x="59" y="532" textLength="84" lengthAdjust="spacingAndGlyphs">Précipitations</text><text class="m" x="20" y="611" textLength="30" lengthAdjust="spacingAndGlyphs">(hPa)</text><text class="m" x="710" y="611" textLength="24" lengthAdjust="spacingAndGlyphs">(mm)</text><rect x="35" y="645" width="31" height="4" fill="#ff0000" shape-rendering="crispEdges"/><text class="m" x="75" y="651" textLength="126" lengthAdjust="spacingAndGlyphs">Moyenne des scénarios</text><rect x="225" y="635" width="31" height="4" fill="#0000ff" shape-rendering="crispEdges"/><rect x="225" y="645" width="31" height="4" fill="#000" shape-rendering="crispEdges"/><text class="m" x="264" y="641" textLength="90" lengthAdjust="spacingAndGlyphs">Run de contrôle</text><text class="m" x="264" y="651" textLength="42" lengthAdjust="spacingAndGlyphs">Run GFS</text><text class="m" x="179" y="664" textLength="150" lengthAdjust="spacingAndGlyphs">Altitude du modele : 403m</text><text class="m" x="339" y="656" textLength="54" lengthAdjust="spacingAndGlyphs">30 Perts.</text><rect x="20.5" y="667.5" width="420" height="32" fill="none" stroke="#000" stroke-width="1" shape-rendering="crispEdges"/><text class="b" x="30" y="681" textLength="350" lengthAdjust="spacingAndGlyphs">Diagramme des ensembles GEFS sur 384h : 40.2N 0.2W</text><text class="m" x="30" y="696" textLength="336" lengthAdjust="spacingAndGlyphs">Pression au niveau de la mer (hPa) , précipitations (mm)</text><text class="m" x="449" y="676" textLength="198" lengthAdjust="spacingAndGlyphs">Ensemble GEFS du 21/04/2026 - 06Z</text><text class="b" x="449.5" y="696" textLength="189" lengthAdjust="spacingAndGlyphs">Copyright 2026 Meteociel.fr</text><rect x="400" y="650" width="10" height="6" fill="#E67E30" shape-rendering="crispEdges"/><text class="t" x="400.8" y="647" textLength="9" lengthAdjust="spacingAndGlyphs">01</text><rect x="411" y="650" width="10" height="6" fill="#7DC46E" shape-rendering="crispEdges"/><text class="t" x="411.8" y="647" textLength="9" lengthAdjust="spacingAndGlyphs">02</text><rect x="422" y="650" width="10" height="6" fill="#F0C010" shape-rendering="crispEdges"/><text class="t" x="422.8" y="647" textLength="9" lengthAdjust="spacingAndGlyphs">03</text><rect x="433" y="650" width="10" height="6" fill="#8E44AD" shape-rendering="crispEdges"/><text class="t" x="433.8" y="647" textLength="9" lengthAdjust="spacingAndGlyphs">04</text><rect x="444" y="650" width="10" height="6" fill="#B8500E" shape-rendering="crispEdges"/><text class="t" x="444.8" y="647" textLength="9" lengthAdjust="spacingAndGlyphs">05</text><rect x="455" y="650" width="10" height="6" fill="#55800B" shape-rendering="crispEdges"/><text class="t" x="455.8" y="647" textLength="9" lengthAdjust="spacingAndGlyphs">06</text><rect x="466" y="650" width="10" height="6" fill="#0A7FF5" shape-rendering="crispEdges"/><text class="t" x="466.8" y="647" textLength="9" lengthAdjust="spacingAndGlyphs">07</text><rect x="477" y="650" width="10" height="6" fill="#E8D8A8" shape-rendering="crispEdges"/><text class="t" x="477.8" y="647" textLength="9" lengthAdjust="spacingAndGlyphs">08</text><rect x="488" y="650" width="10" height="6" fill="#3A8BC0" shape-rendering="crispEdges"/><text class="t" x="488.8" y="647" textLength="9" lengthAdjust="spacingAndGlyphs">09</text><rect x="499" y="650" width="10" height="6" fill="#E8A858" shape-rendering="crispEdges"/><text class="t" x="499.8" y="647" textLength="9" lengthAdjust="spacingAndGlyphs">10</text><rect x="510" y="650" width="10" height="6" fill="#5F4818" shape-rendering="crispEdges"/><text class="t" x="510.8" y="647" textLength="9" lengthAdjust="spacingAndGlyphs">11</text><rect x="521" y="650" width="10" height="6" fill="#F56A20" shape-rendering="crispEdges"/><text class="t" x="521.8" y="647" textLength="9" lengthAdjust="spacingAndGlyphs">12</text><rect x="532" y="650" width="10" height="6" fill="#D4BC6C" shape-rendering="crispEdges"/><text class="t" x="532.8" y="647" textLength="9" lengthAdjust="spacingAndGlyphs">13</text><rect x="543" y="650" width="10" height="6" fill="#0AD860" shape-rendering="crispEdges"/><text class="t" x="543.8" y="647" textLength="9" lengthAdjust="spacingAndGlyphs">14</text><rect x="554" y="650" width="10" height="6" fill="#1F4060" shape-rendering="crispEdges"/><text class="t" x="554.8" y="647" textLength="9" lengthAdjust="spacingAndGlyphs">15</text><rect x="565" y="650" width="10" height="6" fill="#6A7680" shape-rendering="crispEdges"/><text class="t" x="565.8" y="647" textLength="9" lengthAdjust="spacingAndGlyphs">16</text><rect x="576" y="650" width="10" height="6" fill="#E878F8" shape-rendering="crispEdges"/><text class="t" x="576.8" y="647" textLength="9" lengthAdjust="spacingAndGlyphs">17</text><rect x="587" y="650" width="10" height="6" fill="#8020F0" shape-rendering="crispEdges"/><text class="t" x="587.8" y="647" textLength="9" lengthAdjust="spacingAndGlyphs">18</text><rect x="598" y="650" width="10" height="6" fill="#7A5A28" shape-rendering="crispEdges"/><text class="t" x="598.8" y="647" textLength="9" lengthAdjust="spacingAndGlyphs">19</text><rect x="609" y="650" width="10" height="6" fill="#300870" shape-rendering="crispEdges"/><text class="t" x="609.8" y="647" textLength="9" lengthAdjust="spacingAndGlyphs">20</text><rect x="620" y="650" width="10" height="6" fill="#F0D008" shape-rendering="crispEdges"/><text class="t" x="620.8" y="647" textLength="9" lengthAdjust="spacingAndGlyphs">21</text><rect x="631" y="650" width="10" height="6" fill="#2868A8" shape-rendering="crispEdges"/><text class="t" x="631.8" y="647" textLength="9" lengthAdjust="spacingAndGlyphs">22</text><rect x="642" y="650" width="10" height="6" fill="#985820" shape-rendering="crispEdges"/><text class="t" x="642.8" y="647" textLength="9" lengthAdjust="spacingAndGlyphs">23</text><rect x="653" y="650" width="10" height="6" fill="#9888E8" shape-rendering="crispEdges"/><text class="t" x="653.8" y="647" textLength="9" lengthAdjust="spacingAndGlyphs">24</text><rect x="664" y="650" width="10" height="6" fill="#A0F840" shape-rendering="crispEdges"/><text class="t" x="664.8" y="647" textLength="9" lengthAdjust="spacingAndGlyphs">25</text><rect x="675" y="650" width="10" height="6" fill="#D070D0" shape-rendering="crispEdges"/><text class="t" x="675.8" y="647" textLength="9" lengthAdjust="spacingAndGlyphs">26</text><rect x="686" y="650" width="10" height="6" fill="#180898" shape-rendering="crispEdges"/><text class="t" x="686.8" y="647" textLength="9" lengthAdjust="spacingAndGlyphs">27</text><rect x="697" y="650" width="10" height="6" fill="#E0C8A0" shape-rendering="crispEdges"/><text class="t" x="697.8" y="647" textLength="9" lengthAdjust="spacingAndGlyphs">28</text><rect x="708" y="650" width="10" height="6" fill="#880808" shape-rendering="crispEdges"/><text class="t" x="708.8" y="647" textLength="9" lengthAdjust="spacingAndGlyphs">29</text><rect x="719" y="650" width="10" height="6" fill="#0830B8" shape-rendering="crispEdges"/><text class="t" x="719.8" y="647" textLength="9" lengthAdjust="spacingAndGlyphs">30</text>
</svg></body></html>
